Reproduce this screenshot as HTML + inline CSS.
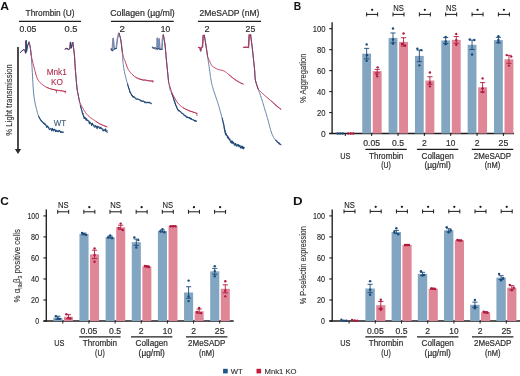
<!DOCTYPE html>
<html><head><meta charset="utf-8"><style>
html,body{margin:0;padding:0;background:#fff;overflow:hidden;}
svg{display:block;font-family:"Liberation Sans", sans-serif;will-change:transform;}
</style></head><body>
<svg width="520" height="376" viewBox="0 0 520 376">
<rect width="520" height="376" fill="#fff"/>
<text x="0.20" y="10.00" font-size="11.2" text-anchor="start" fill="#111" font-weight="bold" textLength="8.80" lengthAdjust="spacingAndGlyphs" >A</text>
<text x="293.70" y="9.70" font-size="10.6" text-anchor="start" fill="#111" font-weight="bold" textLength="7.40" lengthAdjust="spacingAndGlyphs" >B</text>
<text x="0.20" y="204.90" font-size="11.2" text-anchor="start" fill="#111" font-weight="bold" textLength="8.60" lengthAdjust="spacingAndGlyphs" >C</text>
<text x="293.00" y="204.60" font-size="11.0" text-anchor="start" fill="#111" font-weight="bold" textLength="9.60" lengthAdjust="spacingAndGlyphs" >D</text>
<text x="25.60" y="16.40" font-size="8.5" text-anchor="start" fill="#2e2e2e" stroke="#2e2e2e" stroke-width="0.2" textLength="49.00" lengthAdjust="spacingAndGlyphs" >Thrombin (U)</text>
<line x1="19.00" y1="21.40" x2="81.00" y2="21.40" stroke="#1e1e1e" stroke-width="1.15"/>
<text x="19.40" y="31.60" font-size="8.6" text-anchor="start" fill="#2e2e2e" stroke="#2e2e2e" stroke-width="0.2" textLength="16.90" lengthAdjust="spacingAndGlyphs" >0.05</text>
<text x="64.60" y="31.60" font-size="8.6" text-anchor="start" fill="#2e2e2e" stroke="#2e2e2e" stroke-width="0.2" textLength="12.90" lengthAdjust="spacingAndGlyphs" >0.5</text>
<text x="110.20" y="16.40" font-size="8.5" text-anchor="start" fill="#2e2e2e" stroke="#2e2e2e" stroke-width="0.2" textLength="64.60" lengthAdjust="spacingAndGlyphs" >Collagen (µg/ml)</text>
<line x1="111.00" y1="21.40" x2="173.70" y2="21.40" stroke="#1e1e1e" stroke-width="1.15"/>
<text x="119.40" y="31.60" font-size="8.6" text-anchor="start" fill="#2e2e2e" stroke="#2e2e2e" stroke-width="0.2" textLength="5.40" lengthAdjust="spacingAndGlyphs" >2</text>
<text x="160.80" y="31.60" font-size="8.6" text-anchor="start" fill="#2e2e2e" stroke="#2e2e2e" stroke-width="0.2" textLength="9.30" lengthAdjust="spacingAndGlyphs" >10</text>
<text x="199.60" y="16.40" font-size="8.5" text-anchor="start" fill="#2e2e2e" stroke="#2e2e2e" stroke-width="0.2" textLength="59.80" lengthAdjust="spacingAndGlyphs" >2MeSADP (nM)</text>
<line x1="197.90" y1="21.40" x2="261.10" y2="21.40" stroke="#1e1e1e" stroke-width="1.15"/>
<text x="204.40" y="31.60" font-size="8.6" text-anchor="start" fill="#2e2e2e" stroke="#2e2e2e" stroke-width="0.2" textLength="5.10" lengthAdjust="spacingAndGlyphs" >2</text>
<text x="245.60" y="31.60" font-size="8.6" text-anchor="start" fill="#2e2e2e" stroke="#2e2e2e" stroke-width="0.2" textLength="9.70" lengthAdjust="spacingAndGlyphs" >25</text>
<text transform="translate(11.70,99.90) rotate(-90)" x="0" y="0" font-size="9.6" text-anchor="middle" fill="#2e2e2e" stroke="#2e2e2e" stroke-width="0.12" textLength="71.60" lengthAdjust="spacingAndGlyphs">% Light transmission</text>
<line x1="18.00" y1="47.00" x2="18.00" y2="150.00" stroke="#444" stroke-width="1.9"/>
<polygon points="14.9,149.0 21.1,149.0 18.0,154.0" fill="#2a2a2a"/>
<text x="46.70" y="74.50" font-size="8.5" text-anchor="start" fill="#b02f52" stroke="#b02f52" stroke-width="0.12" textLength="20.10" lengthAdjust="spacingAndGlyphs" >Mnk1</text>
<text x="50.90" y="85.20" font-size="8.5" text-anchor="start" fill="#b02f52" stroke="#b02f52" stroke-width="0.12" textLength="11.90" lengthAdjust="spacingAndGlyphs" >KO</text>
<text x="53.70" y="125.80" font-size="8.4" text-anchor="start" fill="#3d5a7a" stroke="#3d5a7a" stroke-width="0.12" textLength="12.40" lengthAdjust="spacingAndGlyphs" >WT</text>
<path d="M20.20,52.70 L21.60,51.30 L23.40,49.90 L24.90,51.00 L25.50,53.50 L25.80,40.70 L26.20,52.00 L27.20,46.50 L28.60,42.70" fill="none" stroke="#c02f55" stroke-width="0.9" stroke-linejoin="round" stroke-linecap="round" opacity="1"/>
<path d="M20.60,52.20 L22.00,50.80 L23.80,49.40 L25.30,50.50 L25.90,53.00 L26.20,40.20 L26.60,51.50 L27.60,46.00 L29.00,42.20" fill="none" stroke="#1f4775" stroke-width="1.0" stroke-linejoin="round" stroke-linecap="round" opacity="1"/>
<path d="M29.00,42.20 L29.17,42.80 L29.40,43.62 L29.68,44.62 L29.95,45.76 L30.20,47.00 L30.43,48.52 L30.66,50.35 L30.88,52.22 L31.07,53.86 L31.20,55.00 L31.27,56.09 L31.37,57.46 L31.48,59.09 L31.60,60.94 L31.74,62.98 L31.88,65.20 L32.04,67.54 L32.20,70.00 L32.36,72.71 L32.52,75.76 L32.69,79.04 L32.86,82.44 L33.06,85.84 L33.27,89.15 L33.52,92.24 L33.80,95.00 L34.13,97.49 L34.50,99.83 L34.90,102.04 L35.33,104.10 L35.77,106.03 L36.20,107.82 L36.61,109.47 L37.00,111.00 L37.35,112.35 L37.67,113.50 L37.98,114.50 L38.29,115.37 L38.60,116.16 L38.93,116.90 L39.29,117.63 L39.70,118.40 L40.15,119.17 L40.63,119.91 L41.14,120.61 L41.67,121.28 L42.22,121.91 L42.77,122.53 L43.34,123.12 L43.90,123.70 L44.46,124.25 L45.02,124.78 L45.59,125.28 L46.17,125.76 L46.76,126.21 L47.38,126.66 L48.02,127.08 L48.70,127.50 L49.40,127.90 L50.12,128.29 L50.86,128.66 L51.63,129.01 L52.43,129.35 L53.25,129.68 L54.11,130.00 L55.00,130.30 L56.00,130.60 L57.13,130.90 L58.33,131.20 L59.54,131.48 L60.71,131.73 L61.76,131.96 L62.65,132.15 L63.30,132.30" fill="none" stroke="#52789f" stroke-width="0.9" stroke-linejoin="round" stroke-linecap="round" opacity="1"/>
<path d="M38.60,116.16 L38.93,116.90 L39.29,117.63 L39.70,118.36 L40.15,118.96 L40.63,120.21 L41.14,120.16 L41.67,121.52 L42.22,121.87 L42.77,121.80 L43.34,123.42 L43.90,122.74 L44.46,124.38 L45.02,123.86 L45.59,124.42 L46.17,125.86 L46.76,127.48 L47.38,125.89 L48.02,126.61 L48.70,128.19 L49.40,129.51 L50.12,128.83 L50.86,128.68 L51.63,130.70 L52.43,128.37 L53.25,131.03 L53.68,129.55 L54.11,129.29 L54.55,129.37 L55.00,130.07 L55.50,131.68 L56.00,130.00 L56.56,131.31 L57.13,131.62 L57.73,131.00 L58.33,131.65 L58.94,130.40 L59.54,130.53 L60.13,131.08 L60.71,132.57 L61.23,131.96 L61.76,131.74 L62.20,132.62 L62.65,132.34 L63.30,132.04" fill="none" stroke="#1f4775" stroke-width="1.05" stroke-linejoin="round" stroke-linecap="round" opacity="1"/>
<path d="M29.00,42.20 L29.17,42.80 L29.40,43.62 L29.68,44.62 L29.95,45.76 L30.20,47.00 L30.43,48.52 L30.66,50.35 L30.88,52.22 L31.07,53.86 L31.20,55.00 L31.27,55.35 L31.34,55.77 L31.43,56.26 L31.53,56.84 L31.66,57.50 L31.81,58.24 L31.99,59.07 L32.20,60.00 L32.46,61.07 L32.76,62.31 L33.09,63.66 L33.44,65.08 L33.81,66.53 L34.19,67.97 L34.55,69.34 L34.90,70.60 L35.22,71.78 L35.53,72.95 L35.82,74.08 L36.12,75.17 L36.44,76.23 L36.78,77.24 L37.17,78.20 L37.60,79.10 L38.08,79.93 L38.59,80.71 L39.14,81.43 L39.72,82.10 L40.33,82.74 L40.96,83.34 L41.62,83.93 L42.30,84.50 L43.01,85.06 L43.76,85.59 L44.54,86.10 L45.34,86.58 L46.16,87.03 L47.00,87.45 L47.85,87.84 L48.70,88.20 L49.55,88.52 L50.41,88.79 L51.27,89.03 L52.14,89.24 L53.05,89.44 L53.99,89.62 L54.97,89.81 L56.00,90.00 L57.16,90.20 L58.48,90.41 L59.89,90.62 L61.31,90.81 L62.67,91.00 L63.90,91.16 L64.94,91.29 L65.70,91.40" fill="none" stroke="#c02f55" stroke-width="0.95" stroke-linejoin="round" stroke-linecap="round" opacity="1"/>
<path d="M29.00,42.20 L29.17,42.80 L29.40,43.62 L29.68,44.62 L29.95,45.76 L30.20,47.00 L30.43,48.52 L30.66,50.35 L30.88,52.22 L31.07,53.86 L31.20,55.00" fill="none" stroke="#34446a" stroke-width="0.7" stroke-linejoin="round" stroke-linecap="round" opacity="0.55"/>
<path d="M47.00,87.45 L47.85,87.84 L48.70,88.20 L49.55,88.52 L50.41,88.79 L51.27,89.11 L52.14,89.35 L53.05,89.36 L53.99,89.75 L54.97,89.92 L56.00,90.44 L57.16,90.51 L57.82,90.22 L58.48,90.94 L59.19,90.27 L59.89,90.64 L60.60,91.05 L61.31,90.60 L61.99,90.99 L62.67,90.68 L63.28,91.33 L63.90,91.50 L64.94,91.46 L65.70,91.84" fill="none" stroke="#a82d4d" stroke-width="0.7" stroke-linejoin="round" stroke-linecap="round" opacity="1"/>
<path d="M64.90,49.30 L66.60,48.70 L68.10,49.80 L69.60,49.00 L70.20,42.40 L71.10,48.50 L72.40,42.90" fill="none" stroke="#c02f55" stroke-width="0.9" stroke-linejoin="round" stroke-linecap="round" opacity="1"/>
<path d="M65.30,48.80 L67.00,48.20 L68.50,49.30 L70.00,48.50 L70.60,41.90 L71.50,48.00 L72.80,42.40" fill="none" stroke="#1f4775" stroke-width="1.0" stroke-linejoin="round" stroke-linecap="round" opacity="1"/>
<path d="M72.80,42.40 L73.03,44.08 L73.35,46.42 L73.73,49.18 L74.09,52.12 L74.40,55.00 L74.63,57.80 L74.81,60.68 L74.99,63.67 L75.17,66.77 L75.40,70.00 L75.69,73.58 L76.02,77.51 L76.36,81.45 L76.70,85.06 L77.00,88.00 L77.26,90.10 L77.50,91.59 L77.72,92.73 L77.95,93.78 L78.20,95.00 L78.49,96.51 L78.81,98.14 L79.13,99.70 L79.41,101.05 L79.60,102.00 L79.66,102.27 L79.72,102.60 L79.81,103.01 L79.90,103.46 L80.01,103.96 L80.13,104.49 L80.26,105.04 L80.40,105.60 L80.56,106.19 L80.73,106.83 L80.92,107.50 L81.12,108.19 L81.34,108.90 L81.55,109.61 L81.78,110.32 L82.00,111.00 L82.22,111.67 L82.42,112.33 L82.62,112.99 L82.83,113.66 L83.06,114.32 L83.33,114.98 L83.64,115.64 L84.00,116.30 L84.42,116.98 L84.90,117.68 L85.43,118.39 L85.98,119.09 L86.56,119.78 L87.14,120.44 L87.73,121.05 L88.30,121.60 L88.85,122.08 L89.39,122.50 L89.93,122.88 L90.48,123.22 L91.05,123.55 L91.65,123.88 L92.30,124.22 L93.00,124.60 L93.76,125.01 L94.58,125.44 L95.44,125.89 L96.33,126.33 L97.24,126.77 L98.17,127.20 L99.09,127.62 L100.00,128.00 L100.96,128.37 L102.00,128.75 L103.07,129.11 L104.14,129.46 L105.15,129.79 L106.06,130.07 L106.83,130.31 L107.40,130.50" fill="none" stroke="#52789f" stroke-width="0.9" stroke-linejoin="round" stroke-linecap="round" opacity="1"/>
<path d="M80.40,105.60 L80.56,106.19 L80.73,106.83 L80.92,107.50 L81.12,108.14 L81.34,109.19 L81.55,109.86 L81.78,110.58 L82.00,111.11 L82.22,112.50 L82.42,113.48 L82.62,113.19 L82.83,114.35 L83.06,113.42 L83.33,115.91 L83.64,116.46 L84.00,118.36 L84.42,118.46 L84.90,117.32 L85.43,118.38 L85.98,120.05 L86.56,118.53 L87.14,120.69 L87.73,120.29 L88.30,120.67 L88.85,120.95 L89.39,123.80 L89.93,121.99 L90.48,122.74 L91.05,123.55 L91.65,125.53 L92.30,123.17 L93.00,124.81 L93.76,125.56 L94.17,126.92 L94.58,126.91 L95.01,127.29 L95.44,125.51 L95.89,126.20 L96.33,126.23 L96.79,128.25 L97.24,128.72 L97.71,126.17 L98.17,126.48 L98.63,126.87 L99.09,127.08 L99.55,128.14 L100.00,128.68 L100.48,127.75 L100.96,127.06 L101.48,128.66 L102.00,128.68 L102.53,129.54 L103.07,131.04 L103.60,130.32 L104.14,129.90 L104.64,130.41 L105.15,130.77 L105.61,128.78 L106.06,131.82 L106.83,131.65 L107.40,132.16" fill="none" stroke="#1f4775" stroke-width="1.05" stroke-linejoin="round" stroke-linecap="round" opacity="1"/>
<path d="M72.80,42.40 L73.03,44.08 L73.35,46.42 L73.73,49.18 L74.09,52.12 L74.40,55.00 L74.63,57.80 L74.81,60.68 L74.99,63.67 L75.17,66.77 L75.40,70.00 L75.69,73.58 L76.02,77.51 L76.36,81.45 L76.70,85.06 L77.00,88.00 L77.26,90.10 L77.50,91.59 L77.72,92.73 L77.95,93.78 L78.20,95.00 L78.49,96.51 L78.81,98.14 L79.13,99.70 L79.41,101.05 L79.60,102.00 L79.73,102.27 L79.89,102.60 L80.09,103.01 L80.31,103.46 L80.55,103.96 L80.82,104.49 L81.10,105.04 L81.40,105.60 L81.72,106.19 L82.06,106.83 L82.41,107.50 L82.79,108.19 L83.19,108.90 L83.61,109.61 L84.05,110.32 L84.50,111.00 L84.96,111.67 L85.42,112.33 L85.88,112.99 L86.38,113.66 L86.90,114.32 L87.47,114.98 L88.10,115.64 L88.80,116.30 L89.60,116.98 L90.52,117.68 L91.50,118.39 L92.53,119.10 L93.55,119.79 L94.55,120.44 L95.47,121.05 L96.30,121.60 L97.01,122.08 L97.64,122.51 L98.21,122.89 L98.75,123.23 L99.27,123.55 L99.81,123.87 L100.37,124.18 L101.00,124.50 L101.72,124.84 L102.53,125.19 L103.38,125.54 L104.24,125.88 L105.07,126.20 L105.81,126.48 L106.44,126.72 L106.90,126.90" fill="none" stroke="#c02f55" stroke-width="0.95" stroke-linejoin="round" stroke-linecap="round" opacity="1"/>
<path d="M72.80,42.40 L73.03,44.08 L73.35,46.42 L73.73,49.18 L74.09,52.12 L74.40,55.00 L74.63,57.80 L74.81,60.68 L74.99,63.67 L75.17,66.77 L75.40,70.00 L75.69,73.58 L76.02,77.51 L76.36,81.45 L76.70,85.06 L77.00,88.00 L77.26,90.10 L77.50,91.59 L77.72,92.73 L77.95,93.78 L78.20,95.00 L78.49,96.51 L78.81,98.14 L79.13,99.70 L79.41,101.05 L79.60,102.00" fill="none" stroke="#34446a" stroke-width="0.7" stroke-linejoin="round" stroke-linecap="round" opacity="0.55"/>
<path d="M96.30,121.60 L97.01,122.08 L97.64,122.51 L98.21,122.89 L98.75,123.36 L99.27,123.56 L99.81,123.87 L100.37,123.92 L101.00,124.72 L101.72,124.55 L102.53,124.90 L103.38,125.38 L104.24,125.68 L105.07,126.15 L105.81,126.18 L106.44,126.37 L106.90,126.69" fill="none" stroke="#a82d4d" stroke-width="0.7" stroke-linejoin="round" stroke-linecap="round" opacity="1"/>
<path d="M110.80,49.40 L111.90,51.10 L112.80,38.30 L114.00,49.30 L115.90,48.50 L117.20,38.30 L118.40,33.50" fill="none" stroke="#d9708a" stroke-width="1.0" stroke-linejoin="round" stroke-linecap="round" opacity="1"/>
<path d="M111.40,49.10 L112.50,50.80 L113.40,38.00 L114.60,49.00 L116.50,48.20 L117.80,38.00 L119.00,33.20" fill="none" stroke="#5d93bd" stroke-width="1.1" stroke-linejoin="round" stroke-linecap="round" opacity="1"/>
<path d="M119.00,33.20 L119.25,34.04 L119.60,35.18 L120.02,36.58 L120.43,38.20 L120.80,40.00 L121.14,42.26 L121.49,45.00 L121.82,47.81 L122.10,50.28 L122.30,52.00 L122.33,52.60 L122.37,53.39 L122.42,54.33 L122.47,55.38 L122.53,56.50 L122.61,57.67 L122.70,58.85 L122.80,60.00 L122.91,61.14 L123.03,62.30 L123.15,63.49 L123.29,64.72 L123.45,65.98 L123.64,67.28 L123.85,68.62 L124.10,70.00 L124.38,71.45 L124.70,72.96 L125.04,74.52 L125.41,76.12 L125.81,77.73 L126.22,79.34 L126.65,80.94 L127.10,82.50 L127.56,84.08 L128.04,85.74 L128.54,87.41 L129.06,89.06 L129.60,90.65 L130.17,92.13 L130.77,93.46 L131.40,94.60 L132.07,95.52 L132.79,96.26 L133.54,96.86 L134.31,97.34 L135.10,97.75 L135.90,98.13 L136.71,98.50 L137.50,98.90 L138.29,99.31 L139.08,99.69 L139.87,100.03 L140.68,100.36 L141.49,100.66 L142.31,100.95 L143.15,101.22 L144.00,101.50 L144.92,101.78 L145.94,102.05 L147.00,102.31 L148.06,102.56 L149.06,102.79 L149.97,103.00 L150.73,103.17 L151.30,103.30" fill="none" stroke="#52789f" stroke-width="0.9" stroke-linejoin="round" stroke-linecap="round" opacity="1"/>
<path d="M127.56,84.08 L127.72,84.64 L127.88,85.19 L128.04,85.66 L128.21,86.28 L128.37,86.68 L128.54,87.69 L128.71,88.11 L128.88,88.32 L129.06,88.94 L129.24,89.55 L129.42,90.09 L129.60,90.33 L129.79,91.75 L129.98,92.50 L130.17,92.24 L130.37,92.71 L130.57,92.58 L130.77,93.05 L131.08,93.97 L131.40,94.42 L131.74,95.69 L132.07,95.19 L132.43,95.37 L132.79,97.07 L133.16,96.76 L133.54,96.51 L133.93,97.32 L134.31,96.82 L135.10,97.96 L135.90,98.98 L136.71,99.18 L137.50,99.34 L138.29,99.13 L139.08,99.66 L139.87,99.72 L140.68,100.91 L141.49,100.87 L142.31,101.51 L143.15,101.14 L144.00,101.26 L144.46,102.25 L144.92,102.63 L145.43,102.58 L145.94,102.65 L146.47,102.80 L147.00,102.82 L147.53,102.20 L148.06,102.75 L148.56,102.63 L149.06,102.27 L149.52,102.37 L149.97,102.84 L150.73,102.98 L151.30,103.74" fill="none" stroke="#1f4775" stroke-width="1.05" stroke-linejoin="round" stroke-linecap="round" opacity="1"/>
<path d="M119.00,33.20 L119.25,34.04 L119.60,35.18 L120.02,36.58 L120.43,38.20 L120.80,40.00 L121.14,42.26 L121.49,45.00 L121.82,47.81 L122.10,50.28 L122.30,52.00 L122.42,52.48 L122.57,53.12 L122.75,53.90 L122.95,54.75 L123.16,55.63 L123.38,56.50 L123.60,57.30 L123.80,58.00 L123.98,58.57 L124.15,59.04 L124.31,59.45 L124.48,59.85 L124.66,60.27 L124.87,60.74 L125.11,61.30 L125.40,62.00 L125.71,62.85 L126.04,63.83 L126.38,64.89 L126.76,66.02 L127.18,67.17 L127.65,68.30 L128.19,69.39 L128.80,70.40 L129.50,71.36 L130.29,72.33 L131.15,73.29 L132.06,74.22 L133.00,75.10 L133.95,75.92 L134.89,76.66 L135.80,77.30 L136.67,77.83 L137.52,78.26 L138.36,78.61 L139.21,78.90 L140.09,79.14 L141.00,79.36 L141.96,79.57 L143.00,79.80 L144.18,80.03 L145.54,80.24 L146.98,80.43 L148.45,80.61 L149.86,80.76 L151.14,80.89 L152.21,81.01 L153.00,81.10" fill="none" stroke="#c02f55" stroke-width="0.95" stroke-linejoin="round" stroke-linecap="round" opacity="1"/>
<path d="M119.00,33.20 L119.25,34.04 L119.60,35.18 L120.02,36.58 L120.43,38.20 L120.80,40.00 L121.14,42.26 L121.49,45.00 L121.82,47.81 L122.10,50.28 L122.30,52.00" fill="none" stroke="#34446a" stroke-width="0.7" stroke-linejoin="round" stroke-linecap="round" opacity="0.55"/>
<path d="M111.20,48.60 L112.50,51.00 L113.60,49.50 L115.00,48.60 L116.40,48.40" fill="none" stroke="#1f4775" stroke-width="1.0" stroke-linejoin="round" stroke-linecap="round" opacity="1"/>
<path d="M135.80,77.30 L136.67,77.83 L137.52,78.26 L138.36,78.61 L139.21,78.90 L140.09,79.28 L141.00,79.39 L141.96,79.88 L143.00,80.23 L143.59,80.42 L144.18,80.01 L144.86,79.98 L145.54,80.09 L146.26,80.16 L146.98,80.27 L147.72,80.73 L148.45,81.07 L149.15,81.09 L149.86,80.84 L150.50,81.07 L151.14,81.26 L152.21,80.73 L153.00,81.34" fill="none" stroke="#a82d4d" stroke-width="0.7" stroke-linejoin="round" stroke-linecap="round" opacity="1"/>
<path d="M152.10,47.90 L154.40,48.80 L156.60,49.30 L157.00,38.10 L157.80,49.30 L158.70,38.80 L159.60,49.60 L161.60,49.60 L162.20,38.30 L162.80,35.20" fill="none" stroke="#d9708a" stroke-width="1.0" stroke-linejoin="round" stroke-linecap="round" opacity="1"/>
<path d="M152.70,47.60 L155.00,48.50 L157.20,49.00 L157.60,37.80 L158.40,49.00 L159.30,38.50 L160.20,49.30 L162.20,49.30 L162.80,38.00 L163.40,34.90" fill="none" stroke="#5d93bd" stroke-width="1.1" stroke-linejoin="round" stroke-linecap="round" opacity="1"/>
<path d="M163.40,34.90 L163.62,36.16 L163.92,37.88 L164.28,39.98 L164.65,42.38 L165.00,45.00 L165.33,48.07 L165.67,51.64 L166.00,55.37 L166.32,58.94 L166.60,62.00 L166.84,64.45 L167.04,66.50 L167.23,68.34 L167.41,70.11 L167.60,72.00 L167.82,74.16 L168.05,76.48 L168.27,78.72 L168.46,80.64 L168.60,82.00 L168.72,82.64 L168.87,83.51 L169.06,84.55 L169.26,85.69 L169.49,86.87 L169.72,88.02 L169.96,89.09 L170.20,90.00 L170.43,90.72 L170.65,91.28 L170.88,91.75 L171.11,92.20 L171.37,92.69 L171.67,93.27 L172.01,94.02 L172.40,95.00 L172.86,96.28 L173.38,97.83 L173.94,99.57 L174.54,101.39 L175.16,103.22 L175.79,104.96 L176.40,106.52 L177.00,107.80 L177.58,108.81 L178.15,109.64 L178.72,110.32 L179.29,110.90 L179.87,111.41 L180.46,111.88 L181.07,112.37 L181.70,112.90 L182.33,113.45 L182.95,113.97 L183.58,114.46 L184.22,114.94 L184.90,115.42 L185.63,115.90 L186.42,116.39 L187.30,116.90 L188.34,117.46 L189.56,118.08 L190.89,118.71 L192.25,119.35 L193.57,119.95 L194.76,120.50 L195.77,120.96 L196.50,121.30" fill="none" stroke="#52789f" stroke-width="0.9" stroke-linejoin="round" stroke-linecap="round" opacity="1"/>
<path d="M171.67,93.27 L172.01,94.02 L172.20,94.51 L172.40,95.00 L172.55,95.56 L172.71,95.99 L172.86,96.43 L173.03,96.84 L173.21,97.19 L173.38,98.10 L173.52,98.22 L173.66,99.04 L173.80,99.67 L173.94,99.57 L174.09,100.04 L174.24,101.13 L174.39,101.36 L174.54,101.10 L174.70,101.48 L174.85,101.97 L175.01,103.51 L175.16,103.82 L175.32,103.31 L175.47,104.72 L175.63,105.38 L175.79,105.35 L175.99,105.42 L176.20,106.23 L176.40,106.14 L176.60,106.40 L176.80,108.21 L177.00,108.18 L177.29,108.51 L177.58,109.60 L177.86,109.29 L178.15,110.34 L178.72,110.95 L179.29,110.64 L179.87,111.21 L180.46,111.74 L181.07,112.15 L181.70,113.18 L182.33,113.26 L182.95,114.01 L183.58,114.09 L184.22,115.69 L184.90,115.37 L185.63,116.00 L186.02,116.42 L186.42,117.13 L186.86,116.69 L187.30,117.66 L187.82,117.34 L188.34,117.67 L188.75,117.86 L189.16,117.34 L189.56,118.15 L190.01,117.99 L190.45,117.95 L190.89,119.30 L191.34,118.61 L191.80,119.26 L192.25,119.83 L192.69,119.79 L193.13,119.66 L193.57,120.14 L194.16,120.47 L194.76,121.07 L195.26,120.32 L195.77,121.20 L196.50,121.10" fill="none" stroke="#1f4775" stroke-width="1.05" stroke-linejoin="round" stroke-linecap="round" opacity="1"/>
<path d="M163.40,34.90 L163.62,36.16 L163.92,37.88 L164.28,39.98 L164.65,42.38 L165.00,45.00 L165.33,48.07 L165.67,51.64 L166.00,55.37 L166.32,58.94 L166.60,62.00 L166.84,64.45 L167.04,66.50 L167.23,68.34 L167.41,70.11 L167.60,72.00 L167.82,74.16 L168.05,76.48 L168.27,78.72 L168.46,80.64 L168.60,82.00 L168.79,82.64 L169.04,83.51 L169.34,84.55 L169.67,85.69 L170.02,86.87 L170.37,88.02 L170.70,89.09 L171.00,90.00 L171.25,90.75 L171.46,91.39 L171.66,91.96 L171.85,92.50 L172.06,93.04 L172.31,93.61 L172.62,94.25 L173.00,95.00 L173.46,95.88 L173.99,96.86 L174.56,97.92 L175.18,99.01 L175.83,100.10 L176.49,101.15 L177.15,102.13 L177.80,103.00 L178.45,103.77 L179.12,104.47 L179.81,105.13 L180.50,105.73 L181.20,106.29 L181.90,106.82 L182.60,107.32 L183.30,107.80 L183.98,108.24 L184.64,108.62 L185.29,108.96 L185.94,109.28 L186.62,109.57 L187.33,109.87 L188.08,110.17 L188.90,110.50 L189.84,110.86 L190.92,111.26 L192.08,111.67 L193.25,112.07 L194.38,112.45 L195.41,112.79 L196.27,113.08 L196.90,113.30" fill="none" stroke="#c02f55" stroke-width="0.95" stroke-linejoin="round" stroke-linecap="round" opacity="1"/>
<path d="M163.40,34.90 L163.62,36.16 L163.92,37.88 L164.28,39.98 L164.65,42.38 L165.00,45.00 L165.33,48.07 L165.67,51.64 L166.00,55.37 L166.32,58.94 L166.60,62.00 L166.84,64.45 L167.04,66.50 L167.23,68.34 L167.41,70.11 L167.60,72.00 L167.82,74.16 L168.05,76.48 L168.27,78.72 L168.46,80.64 L168.60,82.00" fill="none" stroke="#34446a" stroke-width="0.7" stroke-linejoin="round" stroke-linecap="round" opacity="0.55"/>
<path d="M152.40,47.00 L154.00,48.20 L155.50,47.60 L157.00,49.30 L158.50,48.50 L160.00,49.30 L162.20,49.30" fill="none" stroke="#1f4775" stroke-width="1.0" stroke-linejoin="round" stroke-linecap="round" opacity="1"/>
<path d="M183.30,107.80 L183.98,108.24 L184.64,108.62 L185.29,108.96 L185.94,109.25 L186.62,109.73 L187.33,109.94 L188.08,110.31 L188.90,110.83 L189.84,111.34 L190.92,111.31 L191.50,111.66 L192.08,111.77 L192.66,111.98 L193.25,112.34 L194.38,112.51 L195.41,112.92 L196.27,113.16 L196.90,113.80" fill="none" stroke="#a82d4d" stroke-width="0.7" stroke-linejoin="round" stroke-linecap="round" opacity="1"/>
<path d="M198.70,47.60 L200.20,47.90 L200.80,51.30 L201.60,47.60 L202.70,47.30 L203.40,35.60 L204.70,35.60" fill="none" stroke="#1f4775" stroke-width="0.9" stroke-linejoin="round" stroke-linecap="round" opacity="1"/>
<path d="M198.30,47.30 L199.80,47.60 L200.40,51.00 L201.20,47.30 L202.30,47.00 L203.00,35.30 L204.30,35.30" fill="none" stroke="#c8325a" stroke-width="1.1" stroke-linejoin="round" stroke-linecap="round" opacity="1"/>
<path d="M204.30,35.30 L204.52,36.59 L204.82,38.39 L205.18,40.52 L205.55,42.78 L205.90,45.00 L206.26,47.38 L206.65,50.06 L207.04,52.70 L207.37,54.99 L207.60,56.60 L207.76,57.66 L207.97,59.09 L208.23,60.79 L208.51,62.68 L208.81,64.64 L209.10,66.57 L209.37,68.40 L209.60,70.00 L209.80,71.42 L209.97,72.76 L210.13,74.04 L210.29,75.27 L210.44,76.47 L210.61,77.64 L210.79,78.82 L211.00,80.00 L211.22,81.14 L211.43,82.21 L211.65,83.25 L211.89,84.28 L212.15,85.34 L212.45,86.47 L212.80,87.72 L213.20,89.10 L213.68,90.63 L214.22,92.27 L214.81,94.01 L215.44,95.82 L216.09,97.70 L216.75,99.61 L217.39,101.55 L218.00,103.50 L218.60,105.49 L219.21,107.57 L219.82,109.70 L220.42,111.85 L221.02,114.00 L221.60,116.13 L222.17,118.21 L222.70,120.20 L223.18,122.15 L223.59,124.10 L223.97,126.03 L224.34,127.92 L224.73,129.74 L225.17,131.48 L225.69,133.10 L226.30,134.60 L227.00,135.96 L227.76,137.21 L228.58,138.35 L229.45,139.40 L230.38,140.38 L231.36,141.29 L232.40,142.16 L233.50,143.00 L234.75,143.81 L236.20,144.57 L237.76,145.27 L239.35,145.93 L240.88,146.51 L242.28,147.02 L243.44,147.45 L244.30,147.80" fill="none" stroke="#52789f" stroke-width="0.9" stroke-linejoin="round" stroke-linecap="round" opacity="1"/>
<path d="M222.17,118.21 L222.30,118.71 L222.43,119.20 L222.57,119.70 L222.70,120.35 L222.82,121.00 L222.94,121.62 L223.06,121.54 L223.18,122.34 L223.28,123.35 L223.39,123.77 L223.49,123.21 L223.59,123.63 L223.69,124.69 L223.78,124.41 L223.88,125.22 L223.97,125.28 L224.07,127.22 L224.16,128.05 L224.25,128.90 L224.34,127.21 L224.44,129.38 L224.54,129.66 L224.64,128.53 L224.73,131.25 L224.88,132.09 L225.03,130.38 L225.17,133.20 L225.34,132.05 L225.51,132.86 L225.69,134.94 L225.89,134.96 L226.10,133.41 L226.30,134.73 L226.53,135.44 L226.77,135.36 L227.00,135.37 L227.26,136.16 L227.51,137.81 L227.76,136.08 L228.03,138.09 L228.31,138.12 L228.58,137.21 L228.87,138.52 L229.16,139.77 L229.45,139.78 L229.91,138.90 L230.38,142.20 L230.87,142.06 L231.36,143.08 L231.71,140.71 L232.06,141.50 L232.40,141.09 L232.77,143.64 L233.13,142.36 L233.50,142.21 L233.92,143.37 L234.33,145.14 L234.75,145.12 L235.23,143.66 L235.72,143.58 L236.20,146.19 L236.72,145.36 L237.24,145.99 L237.76,144.36 L238.29,144.48 L238.82,146.62 L239.35,146.04 L239.86,145.15 L240.37,148.00 L240.88,147.26 L241.35,147.94 L241.81,145.92 L242.28,148.45 L242.86,146.25 L243.44,148.90 L243.87,147.83 L244.30,147.65" fill="none" stroke="#1f4775" stroke-width="1.05" stroke-linejoin="round" stroke-linecap="round" opacity="1"/>
<path d="M204.30,35.30 L204.52,36.59 L204.82,38.39 L205.18,40.52 L205.55,42.78 L205.90,45.00 L206.26,47.38 L206.65,50.06 L207.04,52.70 L207.37,54.99 L207.60,56.60 L207.79,57.02 L208.03,57.60 L208.32,58.28 L208.65,59.04 L208.99,59.83 L209.34,60.61 L209.68,61.35 L210.00,62.00 L210.28,62.59 L210.53,63.16 L210.76,63.71 L211.00,64.24 L211.27,64.75 L211.58,65.25 L211.95,65.73 L212.40,66.20 L212.95,66.66 L213.57,67.11 L214.27,67.55 L215.00,67.98 L215.76,68.38 L216.53,68.75 L217.28,69.09 L218.00,69.40 L218.71,69.65 L219.44,69.84 L220.17,70.00 L220.90,70.13 L221.62,70.25 L222.31,70.39 L222.98,70.57 L223.60,70.80 L224.17,71.07 L224.69,71.37 L225.18,71.69 L225.65,72.04 L226.11,72.40 L226.58,72.78 L227.07,73.18 L227.60,73.60 L228.16,74.04 L228.72,74.52 L229.31,75.01 L229.90,75.52 L230.51,76.05 L231.12,76.57 L231.76,77.09 L232.40,77.60 L233.06,78.11 L233.75,78.64 L234.46,79.17 L235.18,79.70 L235.89,80.22 L236.61,80.71 L237.31,81.18 L238.00,81.60 L238.70,81.99 L239.45,82.37 L240.21,82.72 L240.95,83.05 L241.65,83.35 L242.27,83.61 L242.80,83.83 L243.20,84.00" fill="none" stroke="#c02f55" stroke-width="0.95" stroke-linejoin="round" stroke-linecap="round" opacity="1"/>
<path d="M204.30,35.30 L204.52,36.59 L204.82,38.39 L205.18,40.52 L205.55,42.78 L205.90,45.00 L206.26,47.38 L206.65,50.06 L207.04,52.70 L207.37,54.99 L207.60,56.60" fill="none" stroke="#34446a" stroke-width="0.7" stroke-linejoin="round" stroke-linecap="round" opacity="0.55"/>
<path d="M229.31,75.01 L229.90,75.52 L230.51,76.05 L231.12,76.57 L231.76,77.09 L232.40,77.64 L233.06,78.35 L233.75,78.56 L234.46,78.97 L235.18,79.82 L235.89,80.08 L236.61,80.46 L237.31,80.97 L238.00,81.30 L238.70,81.82 L239.45,82.30 L240.21,82.65 L240.95,83.38 L241.65,83.26 L242.27,83.71 L242.80,83.64 L243.20,83.96" fill="none" stroke="#a82d4d" stroke-width="0.7" stroke-linejoin="round" stroke-linecap="round" opacity="1"/>
<path d="M243.70,47.60 L246.40,47.30 L248.70,47.80 L249.40,35.00 L251.00,35.30" fill="none" stroke="#1f4775" stroke-width="0.9" stroke-linejoin="round" stroke-linecap="round" opacity="1"/>
<path d="M243.30,47.30 L246.00,47.00 L248.30,47.50 L249.00,34.70 L250.60,35.00" fill="none" stroke="#c8325a" stroke-width="1.1" stroke-linejoin="round" stroke-linecap="round" opacity="1"/>
<path d="M250.60,35.00 L250.86,36.96 L251.21,39.68 L251.63,42.92 L252.08,46.44 L252.50,50.00 L252.93,53.84 L253.39,58.12 L253.84,62.48 L254.26,66.56 L254.60,70.00 L254.81,72.65 L254.92,74.76 L255.00,76.54 L255.13,78.22 L255.40,80.00 L255.88,82.02 L256.51,84.14 L257.19,86.16 L257.79,87.88 L258.20,89.10 L258.50,89.95 L258.90,91.08 L259.38,92.43 L259.91,93.92 L260.47,95.50 L261.02,97.08 L261.54,98.61 L262.00,100.00 L262.41,101.29 L262.81,102.56 L263.18,103.82 L263.55,105.06 L263.91,106.29 L264.27,107.52 L264.63,108.76 L265.00,110.00 L265.37,111.24 L265.74,112.45 L266.11,113.66 L266.48,114.88 L266.85,116.10 L267.23,117.36 L267.61,118.65 L268.00,120.00 L268.40,121.44 L268.79,122.97 L269.20,124.56 L269.61,126.16 L270.02,127.75 L270.44,129.28 L270.87,130.71 L271.30,132.00 L271.73,133.16 L272.15,134.23 L272.56,135.21 L272.99,136.12 L273.43,136.99 L273.91,137.81 L274.43,138.61 L275.00,139.40 L275.67,140.19 L276.46,140.98 L277.31,141.74 L278.18,142.46 L279.02,143.13 L279.79,143.72 L280.43,144.21 L280.90,144.60" fill="none" stroke="#52789f" stroke-width="0.9" stroke-linejoin="round" stroke-linecap="round" opacity="1"/>
<path d="M275.67,140.19 L276.07,140.43 L276.46,140.85 L276.88,140.85 L277.31,142.24 L277.75,142.33 L278.18,142.18 L278.60,142.92 L279.02,143.91 L279.41,143.02 L279.79,144.34 L280.43,144.28 L280.90,144.75" fill="none" stroke="#1f4775" stroke-width="1.05" stroke-linejoin="round" stroke-linecap="round" opacity="1"/>
<path d="M250.60,35.00 L250.86,36.96 L251.21,39.68 L251.63,42.92 L252.08,46.44 L252.50,50.00 L252.93,53.84 L253.39,58.12 L253.84,62.48 L254.26,66.56 L254.60,70.00 L254.81,72.65 L254.92,74.76 L255.00,76.54 L255.13,78.22 L255.40,80.00 L255.88,82.02 L256.51,84.14 L257.19,86.16 L257.79,87.88 L258.20,89.10 L258.55,89.45 L258.98,89.91 L259.49,90.44 L260.08,91.05 L260.73,91.71 L261.44,92.42 L262.20,93.15 L263.00,93.90 L263.86,94.68 L264.80,95.50 L265.80,96.37 L266.85,97.28 L267.94,98.21 L269.05,99.16 L270.18,100.13 L271.30,101.10 L272.50,102.15 L273.83,103.31 L275.23,104.53 L276.62,105.75 L277.95,106.91 L279.14,107.96 L280.15,108.84 L280.90,109.50" fill="none" stroke="#c02f55" stroke-width="0.95" stroke-linejoin="round" stroke-linecap="round" opacity="1"/>
<path d="M250.60,35.00 L250.86,36.96 L251.21,39.68 L251.63,42.92 L252.08,46.44 L252.50,50.00 L252.93,53.84 L253.39,58.12 L253.84,62.48 L254.26,66.56 L254.60,70.00 L254.81,72.65 L254.92,74.76 L255.00,76.54 L255.13,78.22 L255.40,80.00 L255.88,82.02 L256.51,84.14 L257.19,86.16 L257.79,87.88 L258.20,89.10" fill="none" stroke="#34446a" stroke-width="0.7" stroke-linejoin="round" stroke-linecap="round" opacity="0.55"/>
<path d="M271.30,101.10 L271.90,101.62 L272.50,102.15 L273.17,102.73 L273.83,103.48 L274.30,103.72 L274.76,104.24 L275.23,104.91 L275.69,105.69 L276.15,105.29 L276.62,106.31 L277.28,106.73 L277.95,107.22 L278.55,107.46 L279.14,107.91 L279.65,107.98 L280.15,108.52 L280.90,109.10" fill="none" stroke="#a82d4d" stroke-width="0.7" stroke-linejoin="round" stroke-linecap="round" opacity="1"/>
<line x1="56.40" y1="90.20" x2="56.40" y2="93.20" stroke="#a82d4d" stroke-width="0.7"/>
<line x1="65.20" y1="91.00" x2="65.20" y2="93.40" stroke="#a82d4d" stroke-width="0.7"/>
<line x1="196.90" y1="113.00" x2="196.90" y2="116.10" stroke="#a82d4d" stroke-width="0.7"/>
<line x1="152.80" y1="80.60" x2="152.80" y2="82.60" stroke="#a82d4d" stroke-width="0.7"/>
<line x1="332.10" y1="22.20" x2="332.10" y2="134.10" stroke="#1e1e1e" stroke-width="1.35"/>
<line x1="329.20" y1="133.50" x2="332.10" y2="133.50" stroke="#1e1e1e" stroke-width="1.1"/>
<text x="325.60" y="136.60" font-size="9.6" text-anchor="end" fill="#262626" stroke="#262626" stroke-width="0.12" textLength="4.70" lengthAdjust="spacingAndGlyphs" >0</text>
<line x1="329.20" y1="112.54" x2="332.10" y2="112.54" stroke="#1e1e1e" stroke-width="1.1"/>
<text x="325.60" y="115.64" font-size="9.6" text-anchor="end" fill="#262626" stroke="#262626" stroke-width="0.12" textLength="8.50" lengthAdjust="spacingAndGlyphs" >20</text>
<line x1="329.20" y1="91.58" x2="332.10" y2="91.58" stroke="#1e1e1e" stroke-width="1.1"/>
<text x="325.60" y="94.68" font-size="9.6" text-anchor="end" fill="#262626" stroke="#262626" stroke-width="0.12" textLength="8.50" lengthAdjust="spacingAndGlyphs" >40</text>
<line x1="329.20" y1="70.62" x2="332.10" y2="70.62" stroke="#1e1e1e" stroke-width="1.1"/>
<text x="325.60" y="73.72" font-size="9.6" text-anchor="end" fill="#262626" stroke="#262626" stroke-width="0.12" textLength="8.50" lengthAdjust="spacingAndGlyphs" >60</text>
<line x1="329.20" y1="49.66" x2="332.10" y2="49.66" stroke="#1e1e1e" stroke-width="1.1"/>
<text x="325.60" y="52.76" font-size="9.6" text-anchor="end" fill="#262626" stroke="#262626" stroke-width="0.12" textLength="8.50" lengthAdjust="spacingAndGlyphs" >80</text>
<line x1="329.20" y1="28.70" x2="332.10" y2="28.70" stroke="#1e1e1e" stroke-width="1.1"/>
<text x="325.60" y="31.80" font-size="9.6" text-anchor="end" fill="#262626" stroke="#262626" stroke-width="0.12" textLength="12.90" lengthAdjust="spacingAndGlyphs" >100</text>
<line x1="329.20" y1="133.50" x2="514.00" y2="133.50" stroke="#1e1e1e" stroke-width="1.35"/>
<text transform="translate(306.20,78.25) rotate(-90)" x="0" y="0" font-size="9.3" text-anchor="middle" fill="#333" stroke="#333" stroke-width="0.12" textLength="49.30" lengthAdjust="spacingAndGlyphs">% Aggregation</text>
<line x1="345.30" y1="133.50" x2="345.30" y2="136.00" stroke="#1e1e1e" stroke-width="1.0"/>
<circle cx="337.80" cy="133.50" r="1.2" fill="#1b4a78"/>
<circle cx="340.30" cy="133.50" r="1.2" fill="#1b4a78"/>
<circle cx="342.80" cy="133.50" r="1.2" fill="#1b4a78"/>
<circle cx="348.35" cy="133.50" r="1.2" fill="#b0183e"/>
<circle cx="350.85" cy="133.50" r="1.2" fill="#b0183e"/>
<circle cx="353.35" cy="133.50" r="1.2" fill="#b0183e"/>
<line x1="371.65" y1="133.50" x2="371.65" y2="136.00" stroke="#1e1e1e" stroke-width="1.0"/>
<rect x="362.25" y="53.60" width="8.80" height="79.90" fill="#82a5c1"/>
<line x1="366.65" y1="48.36" x2="366.65" y2="58.84" stroke="#1b4a78" stroke-width="0.9"/>
<line x1="364.05" y1="48.36" x2="369.25" y2="48.36" stroke="#1b4a78" stroke-width="0.9"/>
<line x1="364.05" y1="58.84" x2="369.25" y2="58.84" stroke="#1b4a78" stroke-width="0.9"/>
<circle cx="366.65" cy="44.38" r="1.2" fill="#1b4a78"/>
<circle cx="366.95" cy="55.17" r="1.2" fill="#1b4a78"/>
<circle cx="366.65" cy="60.73" r="1.2" fill="#1b4a78"/>
<rect x="372.75" y="71.10" width="8.90" height="62.40" fill="#df8797"/>
<line x1="377.20" y1="69.32" x2="377.20" y2="72.88" stroke="#b0183e" stroke-width="0.9"/>
<line x1="374.60" y1="69.32" x2="379.80" y2="69.32" stroke="#b0183e" stroke-width="0.9"/>
<line x1="374.60" y1="72.88" x2="379.80" y2="72.88" stroke="#b0183e" stroke-width="0.9"/>
<circle cx="377.70" cy="67.33" r="1.2" fill="#b0183e"/>
<circle cx="376.70" cy="74.35" r="1.2" fill="#b0183e"/>
<circle cx="377.20" cy="76.34" r="1.2" fill="#b0183e"/>
<line x1="398.00" y1="133.50" x2="398.00" y2="136.00" stroke="#1e1e1e" stroke-width="1.0"/>
<rect x="388.60" y="37.90" width="8.80" height="95.60" fill="#82a5c1"/>
<line x1="393.00" y1="32.97" x2="393.00" y2="42.83" stroke="#1b4a78" stroke-width="0.9"/>
<line x1="390.40" y1="32.97" x2="395.60" y2="32.97" stroke="#1b4a78" stroke-width="0.9"/>
<line x1="390.40" y1="42.83" x2="395.60" y2="42.83" stroke="#1b4a78" stroke-width="0.9"/>
<circle cx="393.00" cy="28.47" r="1.2" fill="#1b4a78"/>
<circle cx="393.00" cy="39.47" r="1.2" fill="#1b4a78"/>
<circle cx="393.00" cy="43.66" r="1.2" fill="#1b4a78"/>
<rect x="399.10" y="41.90" width="8.90" height="91.60" fill="#df8797"/>
<line x1="403.55" y1="37.71" x2="403.55" y2="46.09" stroke="#b0183e" stroke-width="0.9"/>
<line x1="400.95" y1="37.71" x2="406.15" y2="37.71" stroke="#b0183e" stroke-width="0.9"/>
<line x1="400.95" y1="46.09" x2="406.15" y2="46.09" stroke="#b0183e" stroke-width="0.9"/>
<circle cx="403.55" cy="33.52" r="1.2" fill="#b0183e"/>
<circle cx="402.05" cy="44.00" r="1.2" fill="#b0183e"/>
<circle cx="405.05" cy="45.57" r="1.2" fill="#b0183e"/>
<line x1="424.35" y1="133.50" x2="424.35" y2="136.00" stroke="#1e1e1e" stroke-width="1.0"/>
<rect x="414.95" y="55.90" width="8.80" height="77.60" fill="#82a5c1"/>
<line x1="419.35" y1="50.14" x2="419.35" y2="61.66" stroke="#1b4a78" stroke-width="0.9"/>
<line x1="416.75" y1="50.14" x2="421.95" y2="50.14" stroke="#1b4a78" stroke-width="0.9"/>
<line x1="416.75" y1="61.66" x2="421.95" y2="61.66" stroke="#1b4a78" stroke-width="0.9"/>
<circle cx="417.35" cy="48.77" r="1.2" fill="#1b4a78"/>
<circle cx="421.35" cy="50.14" r="1.2" fill="#1b4a78"/>
<circle cx="419.35" cy="65.33" r="1.2" fill="#1b4a78"/>
<rect x="425.45" y="80.50" width="8.90" height="53.00" fill="#df8797"/>
<line x1="429.90" y1="76.73" x2="429.90" y2="84.27" stroke="#b0183e" stroke-width="0.9"/>
<line x1="427.30" y1="76.73" x2="432.50" y2="76.73" stroke="#b0183e" stroke-width="0.9"/>
<line x1="427.30" y1="84.27" x2="432.50" y2="84.27" stroke="#b0183e" stroke-width="0.9"/>
<circle cx="429.90" cy="72.43" r="1.2" fill="#b0183e"/>
<circle cx="429.90" cy="82.70" r="1.2" fill="#b0183e"/>
<circle cx="429.90" cy="86.37" r="1.2" fill="#b0183e"/>
<line x1="450.70" y1="133.50" x2="450.70" y2="136.00" stroke="#1e1e1e" stroke-width="1.0"/>
<rect x="441.30" y="40.50" width="8.80" height="93.00" fill="#82a5c1"/>
<line x1="445.70" y1="37.57" x2="445.70" y2="43.43" stroke="#1b4a78" stroke-width="0.9"/>
<line x1="443.10" y1="37.57" x2="448.30" y2="37.57" stroke="#1b4a78" stroke-width="0.9"/>
<line x1="443.10" y1="43.43" x2="448.30" y2="43.43" stroke="#1b4a78" stroke-width="0.9"/>
<circle cx="445.70" cy="37.04" r="1.2" fill="#1b4a78"/>
<circle cx="445.70" cy="41.34" r="1.2" fill="#1b4a78"/>
<circle cx="445.70" cy="44.17" r="1.2" fill="#1b4a78"/>
<rect x="451.80" y="39.90" width="8.90" height="93.60" fill="#df8797"/>
<line x1="456.25" y1="36.55" x2="456.25" y2="43.25" stroke="#b0183e" stroke-width="0.9"/>
<line x1="453.65" y1="36.55" x2="458.85" y2="36.55" stroke="#b0183e" stroke-width="0.9"/>
<line x1="453.65" y1="43.25" x2="458.85" y2="43.25" stroke="#b0183e" stroke-width="0.9"/>
<circle cx="456.25" cy="34.03" r="1.2" fill="#b0183e"/>
<circle cx="456.25" cy="40.11" r="1.2" fill="#b0183e"/>
<circle cx="456.25" cy="44.83" r="1.2" fill="#b0183e"/>
<line x1="477.05" y1="133.50" x2="477.05" y2="136.00" stroke="#1e1e1e" stroke-width="1.0"/>
<rect x="467.65" y="44.80" width="8.80" height="88.70" fill="#82a5c1"/>
<line x1="472.05" y1="40.08" x2="472.05" y2="49.52" stroke="#1b4a78" stroke-width="0.9"/>
<line x1="469.45" y1="40.08" x2="474.65" y2="40.08" stroke="#1b4a78" stroke-width="0.9"/>
<line x1="469.45" y1="49.52" x2="474.65" y2="49.52" stroke="#1b4a78" stroke-width="0.9"/>
<circle cx="469.75" cy="39.56" r="1.2" fill="#1b4a78"/>
<circle cx="474.35" cy="39.98" r="1.2" fill="#1b4a78"/>
<circle cx="472.05" cy="54.44" r="1.2" fill="#1b4a78"/>
<rect x="478.15" y="87.30" width="8.90" height="46.20" fill="#df8797"/>
<line x1="482.60" y1="82.58" x2="482.60" y2="92.02" stroke="#b0183e" stroke-width="0.9"/>
<line x1="480.00" y1="82.58" x2="485.20" y2="82.58" stroke="#b0183e" stroke-width="0.9"/>
<line x1="480.00" y1="92.02" x2="485.20" y2="92.02" stroke="#b0183e" stroke-width="0.9"/>
<circle cx="482.60" cy="78.39" r="1.2" fill="#b0183e"/>
<circle cx="482.60" cy="88.35" r="1.2" fill="#b0183e"/>
<circle cx="482.60" cy="92.02" r="1.2" fill="#b0183e"/>
<line x1="503.40" y1="133.50" x2="503.40" y2="136.00" stroke="#1e1e1e" stroke-width="1.0"/>
<rect x="494.00" y="40.10" width="8.80" height="93.40" fill="#82a5c1"/>
<line x1="498.40" y1="37.38" x2="498.40" y2="42.82" stroke="#1b4a78" stroke-width="0.9"/>
<line x1="495.80" y1="37.38" x2="501.00" y2="37.38" stroke="#1b4a78" stroke-width="0.9"/>
<line x1="495.80" y1="42.82" x2="501.00" y2="42.82" stroke="#1b4a78" stroke-width="0.9"/>
<circle cx="498.40" cy="36.22" r="1.2" fill="#1b4a78"/>
<circle cx="498.40" cy="40.00" r="1.2" fill="#1b4a78"/>
<circle cx="498.40" cy="42.20" r="1.2" fill="#1b4a78"/>
<rect x="504.50" y="59.30" width="8.90" height="74.20" fill="#df8797"/>
<line x1="508.95" y1="55.32" x2="508.95" y2="63.28" stroke="#b0183e" stroke-width="0.9"/>
<line x1="506.35" y1="55.32" x2="511.55" y2="55.32" stroke="#b0183e" stroke-width="0.9"/>
<line x1="506.35" y1="63.28" x2="511.55" y2="63.28" stroke="#b0183e" stroke-width="0.9"/>
<circle cx="506.65" cy="55.11" r="1.2" fill="#b0183e"/>
<circle cx="511.25" cy="56.58" r="1.2" fill="#b0183e"/>
<circle cx="508.95" cy="65.59" r="1.2" fill="#b0183e"/>
<line x1="366.65" y1="14.40" x2="377.65" y2="14.40" stroke="#1a1a1a" stroke-width="1.0"/>
<line x1="366.65" y1="12.40" x2="366.65" y2="16.40" stroke="#1a1a1a" stroke-width="1.0"/>
<line x1="377.65" y1="12.40" x2="377.65" y2="16.40" stroke="#1a1a1a" stroke-width="1.0"/>
<circle cx="372.15" cy="9.80" r="1.15" fill="#1a1a1a"/>
<line x1="393.00" y1="14.40" x2="404.00" y2="14.40" stroke="#1a1a1a" stroke-width="1.0"/>
<line x1="393.00" y1="12.40" x2="393.00" y2="16.40" stroke="#1a1a1a" stroke-width="1.0"/>
<line x1="404.00" y1="12.40" x2="404.00" y2="16.40" stroke="#1a1a1a" stroke-width="1.0"/>
<text x="398.50" y="10.60" font-size="9.0" text-anchor="middle" fill="#222" stroke="#222" stroke-width="0.12" textLength="10.60" lengthAdjust="spacingAndGlyphs" >NS</text>
<line x1="419.35" y1="14.40" x2="430.35" y2="14.40" stroke="#1a1a1a" stroke-width="1.0"/>
<line x1="419.35" y1="12.40" x2="419.35" y2="16.40" stroke="#1a1a1a" stroke-width="1.0"/>
<line x1="430.35" y1="12.40" x2="430.35" y2="16.40" stroke="#1a1a1a" stroke-width="1.0"/>
<circle cx="424.85" cy="9.80" r="1.15" fill="#1a1a1a"/>
<line x1="445.70" y1="14.40" x2="456.70" y2="14.40" stroke="#1a1a1a" stroke-width="1.0"/>
<line x1="445.70" y1="12.40" x2="445.70" y2="16.40" stroke="#1a1a1a" stroke-width="1.0"/>
<line x1="456.70" y1="12.40" x2="456.70" y2="16.40" stroke="#1a1a1a" stroke-width="1.0"/>
<text x="451.20" y="10.60" font-size="9.0" text-anchor="middle" fill="#222" stroke="#222" stroke-width="0.12" textLength="10.60" lengthAdjust="spacingAndGlyphs" >NS</text>
<line x1="472.05" y1="14.40" x2="483.05" y2="14.40" stroke="#1a1a1a" stroke-width="1.0"/>
<line x1="472.05" y1="12.40" x2="472.05" y2="16.40" stroke="#1a1a1a" stroke-width="1.0"/>
<line x1="483.05" y1="12.40" x2="483.05" y2="16.40" stroke="#1a1a1a" stroke-width="1.0"/>
<circle cx="477.55" cy="9.80" r="1.15" fill="#1a1a1a"/>
<line x1="498.40" y1="14.40" x2="509.40" y2="14.40" stroke="#1a1a1a" stroke-width="1.0"/>
<line x1="498.40" y1="12.40" x2="498.40" y2="16.40" stroke="#1a1a1a" stroke-width="1.0"/>
<line x1="509.40" y1="12.40" x2="509.40" y2="16.40" stroke="#1a1a1a" stroke-width="1.0"/>
<circle cx="503.90" cy="9.80" r="1.15" fill="#1a1a1a"/>
<text x="345.30" y="158.50" font-size="8.8" text-anchor="middle" fill="#2e2e2e" stroke="#2e2e2e" stroke-width="0.2" textLength="10.20" lengthAdjust="spacingAndGlyphs" >US</text>
<text x="371.65" y="146.40" font-size="8.8" text-anchor="middle" fill="#2e2e2e" stroke="#2e2e2e" stroke-width="0.2" textLength="16.80" lengthAdjust="spacingAndGlyphs" >0.05</text>
<text x="398.00" y="146.40" font-size="8.8" text-anchor="middle" fill="#2e2e2e" stroke="#2e2e2e" stroke-width="0.2" textLength="12.00" lengthAdjust="spacingAndGlyphs" >0.5</text>
<text x="424.35" y="146.40" font-size="8.8" text-anchor="middle" fill="#2e2e2e" stroke="#2e2e2e" stroke-width="0.2" textLength="4.80" lengthAdjust="spacingAndGlyphs" >2</text>
<text x="450.70" y="146.40" font-size="8.8" text-anchor="middle" fill="#2e2e2e" stroke="#2e2e2e" stroke-width="0.2" textLength="9.20" lengthAdjust="spacingAndGlyphs" >10</text>
<text x="477.05" y="146.40" font-size="8.8" text-anchor="middle" fill="#2e2e2e" stroke="#2e2e2e" stroke-width="0.2" textLength="4.80" lengthAdjust="spacingAndGlyphs" >2</text>
<text x="503.40" y="146.40" font-size="8.8" text-anchor="middle" fill="#2e2e2e" stroke="#2e2e2e" stroke-width="0.2" textLength="9.80" lengthAdjust="spacingAndGlyphs" >25</text>
<line x1="365.40" y1="149.30" x2="406.80" y2="149.30" stroke="#1e1e1e" stroke-width="1.15"/>
<text x="386.10" y="158.60" font-size="8.6" text-anchor="middle" fill="#2e2e2e" stroke="#2e2e2e" stroke-width="0.2" textLength="34.30" lengthAdjust="spacingAndGlyphs" >Thrombin</text>
<text x="386.10" y="168.20" font-size="8.2" text-anchor="middle" fill="#2e2e2e" stroke="#2e2e2e" stroke-width="0.2" textLength="9.60" lengthAdjust="spacingAndGlyphs" >(U)</text>
<line x1="416.90" y1="149.30" x2="458.30" y2="149.30" stroke="#1e1e1e" stroke-width="1.15"/>
<text x="437.60" y="158.60" font-size="8.6" text-anchor="middle" fill="#2e2e2e" stroke="#2e2e2e" stroke-width="0.2" textLength="32.20" lengthAdjust="spacingAndGlyphs" >Collagen</text>
<text x="437.60" y="168.20" font-size="8.2" text-anchor="middle" fill="#2e2e2e" stroke="#2e2e2e" stroke-width="0.2" textLength="26.20" lengthAdjust="spacingAndGlyphs" >(µg/ml)</text>
<line x1="471.80" y1="149.30" x2="513.20" y2="149.30" stroke="#1e1e1e" stroke-width="1.15"/>
<text x="492.50" y="158.60" font-size="8.6" text-anchor="middle" fill="#2e2e2e" stroke="#2e2e2e" stroke-width="0.2" textLength="37.30" lengthAdjust="spacingAndGlyphs" >2MeSADP</text>
<text x="492.50" y="168.20" font-size="8.2" text-anchor="middle" fill="#2e2e2e" stroke="#2e2e2e" stroke-width="0.2" textLength="15.40" lengthAdjust="spacingAndGlyphs" >(nM)</text>
<line x1="46.30" y1="209.50" x2="46.30" y2="321.60" stroke="#1e1e1e" stroke-width="1.35"/>
<line x1="43.40" y1="321.00" x2="46.30" y2="321.00" stroke="#1e1e1e" stroke-width="1.1"/>
<text x="39.10" y="323.70" font-size="8.6" text-anchor="end" fill="#262626" stroke="#262626" stroke-width="0.12" textLength="3.90" lengthAdjust="spacingAndGlyphs" >0</text>
<line x1="43.40" y1="299.98" x2="46.30" y2="299.98" stroke="#1e1e1e" stroke-width="1.1"/>
<text x="39.10" y="302.68" font-size="8.6" text-anchor="end" fill="#262626" stroke="#262626" stroke-width="0.12" textLength="8.00" lengthAdjust="spacingAndGlyphs" >20</text>
<line x1="43.40" y1="278.96" x2="46.30" y2="278.96" stroke="#1e1e1e" stroke-width="1.1"/>
<text x="39.10" y="281.66" font-size="8.6" text-anchor="end" fill="#262626" stroke="#262626" stroke-width="0.12" textLength="8.00" lengthAdjust="spacingAndGlyphs" >40</text>
<line x1="43.40" y1="257.94" x2="46.30" y2="257.94" stroke="#1e1e1e" stroke-width="1.1"/>
<text x="39.10" y="260.64" font-size="8.6" text-anchor="end" fill="#262626" stroke="#262626" stroke-width="0.12" textLength="8.00" lengthAdjust="spacingAndGlyphs" >60</text>
<line x1="43.40" y1="236.92" x2="46.30" y2="236.92" stroke="#1e1e1e" stroke-width="1.1"/>
<text x="39.10" y="239.62" font-size="8.6" text-anchor="end" fill="#262626" stroke="#262626" stroke-width="0.12" textLength="8.00" lengthAdjust="spacingAndGlyphs" >80</text>
<line x1="43.40" y1="215.90" x2="46.30" y2="215.90" stroke="#1e1e1e" stroke-width="1.1"/>
<text x="39.10" y="218.60" font-size="8.6" text-anchor="end" fill="#262626" stroke="#262626" stroke-width="0.12" textLength="11.70" lengthAdjust="spacingAndGlyphs" >100</text>
<line x1="43.40" y1="321.00" x2="233.70" y2="321.00" stroke="#1e1e1e" stroke-width="1.35"/>
<text transform="translate(20.20,265.70) rotate(-90)" x="0" y="0" font-size="9.3" text-anchor="middle" fill="#333" stroke="#333" stroke-width="0.12" textLength="73.40" lengthAdjust="spacingAndGlyphs">% α<tspan font-size="6" dy="1.6">IIb</tspan><tspan dy="-1.6">β</tspan><tspan font-size="6" dy="1.6">3</tspan><tspan dy="-1.6"> positive cells</tspan></text>
<line x1="62.80" y1="321.00" x2="62.80" y2="323.50" stroke="#1e1e1e" stroke-width="1.0"/>
<rect x="53.30" y="317.80" width="9.10" height="3.20" fill="#82a5c1"/>
<line x1="57.85" y1="316.22" x2="57.85" y2="319.38" stroke="#1b4a78" stroke-width="0.9"/>
<line x1="55.25" y1="316.22" x2="60.45" y2="316.22" stroke="#1b4a78" stroke-width="0.9"/>
<line x1="55.25" y1="319.38" x2="60.45" y2="319.38" stroke="#1b4a78" stroke-width="0.9"/>
<circle cx="55.85" cy="316.22" r="1.2" fill="#1b4a78"/>
<circle cx="57.85" cy="318.33" r="1.2" fill="#1b4a78"/>
<circle cx="59.85" cy="318.85" r="1.2" fill="#1b4a78"/>
<rect x="63.90" y="316.80" width="9.00" height="4.20" fill="#df8797"/>
<line x1="68.40" y1="314.70" x2="68.40" y2="318.90" stroke="#b0183e" stroke-width="0.9"/>
<line x1="65.80" y1="314.70" x2="71.00" y2="314.70" stroke="#b0183e" stroke-width="0.9"/>
<line x1="65.80" y1="318.90" x2="71.00" y2="318.90" stroke="#b0183e" stroke-width="0.9"/>
<circle cx="66.40" cy="314.17" r="1.2" fill="#b0183e"/>
<circle cx="68.40" cy="317.85" r="1.2" fill="#b0183e"/>
<circle cx="70.40" cy="318.38" r="1.2" fill="#b0183e"/>
<line x1="88.95" y1="321.00" x2="88.95" y2="323.50" stroke="#1e1e1e" stroke-width="1.0"/>
<rect x="79.45" y="234.00" width="9.10" height="87.00" fill="#82a5c1"/>
<line x1="84.00" y1="233.16" x2="84.00" y2="234.84" stroke="#1b4a78" stroke-width="0.9"/>
<line x1="81.40" y1="233.16" x2="86.60" y2="233.16" stroke="#1b4a78" stroke-width="0.9"/>
<line x1="81.40" y1="234.84" x2="86.60" y2="234.84" stroke="#1b4a78" stroke-width="0.9"/>
<circle cx="82.00" cy="232.95" r="1.2" fill="#1b4a78"/>
<circle cx="84.00" cy="233.89" r="1.2" fill="#1b4a78"/>
<circle cx="86.00" cy="234.84" r="1.2" fill="#1b4a78"/>
<rect x="90.05" y="254.40" width="9.00" height="66.60" fill="#df8797"/>
<line x1="94.55" y1="250.20" x2="94.55" y2="258.60" stroke="#b0183e" stroke-width="0.9"/>
<line x1="91.95" y1="250.20" x2="97.15" y2="250.20" stroke="#b0183e" stroke-width="0.9"/>
<line x1="91.95" y1="258.60" x2="97.15" y2="258.60" stroke="#b0183e" stroke-width="0.9"/>
<circle cx="94.55" cy="248.41" r="1.2" fill="#b0183e"/>
<circle cx="94.55" cy="255.03" r="1.2" fill="#b0183e"/>
<circle cx="94.55" cy="261.76" r="1.2" fill="#b0183e"/>
<line x1="115.10" y1="321.00" x2="115.10" y2="323.50" stroke="#1e1e1e" stroke-width="1.0"/>
<rect x="105.60" y="237.10" width="9.10" height="83.90" fill="#82a5c1"/>
<line x1="110.15" y1="236.15" x2="110.15" y2="238.05" stroke="#1b4a78" stroke-width="0.9"/>
<line x1="107.55" y1="236.15" x2="112.75" y2="236.15" stroke="#1b4a78" stroke-width="0.9"/>
<line x1="107.55" y1="238.05" x2="112.75" y2="238.05" stroke="#1b4a78" stroke-width="0.9"/>
<circle cx="110.15" cy="235.52" r="1.2" fill="#1b4a78"/>
<circle cx="108.15" cy="237.42" r="1.2" fill="#1b4a78"/>
<circle cx="112.15" cy="238.15" r="1.2" fill="#1b4a78"/>
<rect x="116.20" y="227.30" width="9.00" height="93.70" fill="#df8797"/>
<line x1="120.70" y1="225.20" x2="120.70" y2="229.40" stroke="#b0183e" stroke-width="0.9"/>
<line x1="118.10" y1="225.20" x2="123.30" y2="225.20" stroke="#b0183e" stroke-width="0.9"/>
<line x1="118.10" y1="229.40" x2="123.30" y2="229.40" stroke="#b0183e" stroke-width="0.9"/>
<circle cx="120.70" cy="223.62" r="1.2" fill="#b0183e"/>
<circle cx="118.70" cy="227.83" r="1.2" fill="#b0183e"/>
<circle cx="122.70" cy="229.93" r="1.2" fill="#b0183e"/>
<line x1="141.25" y1="321.00" x2="141.25" y2="323.50" stroke="#1e1e1e" stroke-width="1.0"/>
<rect x="131.75" y="242.20" width="9.10" height="78.80" fill="#82a5c1"/>
<line x1="136.30" y1="239.05" x2="136.30" y2="245.35" stroke="#1b4a78" stroke-width="0.9"/>
<line x1="133.70" y1="239.05" x2="138.90" y2="239.05" stroke="#1b4a78" stroke-width="0.9"/>
<line x1="133.70" y1="245.35" x2="138.90" y2="245.35" stroke="#1b4a78" stroke-width="0.9"/>
<circle cx="134.30" cy="237.37" r="1.2" fill="#1b4a78"/>
<circle cx="138.30" cy="240.10" r="1.2" fill="#1b4a78"/>
<circle cx="136.30" cy="247.45" r="1.2" fill="#1b4a78"/>
<rect x="142.35" y="266.40" width="9.00" height="54.60" fill="#df8797"/>
<line x1="146.85" y1="265.77" x2="146.85" y2="267.03" stroke="#b0183e" stroke-width="0.9"/>
<line x1="144.25" y1="265.77" x2="149.45" y2="265.77" stroke="#b0183e" stroke-width="0.9"/>
<line x1="144.25" y1="267.03" x2="149.45" y2="267.03" stroke="#b0183e" stroke-width="0.9"/>
<circle cx="144.85" cy="265.87" r="1.2" fill="#b0183e"/>
<circle cx="146.85" cy="266.40" r="1.2" fill="#b0183e"/>
<circle cx="148.85" cy="266.93" r="1.2" fill="#b0183e"/>
<line x1="167.40" y1="321.00" x2="167.40" y2="323.50" stroke="#1e1e1e" stroke-width="1.0"/>
<rect x="157.90" y="231.00" width="9.10" height="90.00" fill="#82a5c1"/>
<line x1="162.45" y1="229.95" x2="162.45" y2="232.05" stroke="#1b4a78" stroke-width="0.9"/>
<line x1="159.85" y1="229.95" x2="165.05" y2="229.95" stroke="#1b4a78" stroke-width="0.9"/>
<line x1="159.85" y1="232.05" x2="165.05" y2="232.05" stroke="#1b4a78" stroke-width="0.9"/>
<circle cx="162.45" cy="229.11" r="1.2" fill="#1b4a78"/>
<circle cx="160.45" cy="231.21" r="1.2" fill="#1b4a78"/>
<circle cx="164.45" cy="232.26" r="1.2" fill="#1b4a78"/>
<rect x="168.50" y="226.20" width="9.00" height="94.80" fill="#df8797"/>
<line x1="173.00" y1="225.88" x2="173.00" y2="226.52" stroke="#b0183e" stroke-width="0.9"/>
<line x1="170.40" y1="225.88" x2="175.60" y2="225.88" stroke="#b0183e" stroke-width="0.9"/>
<line x1="170.40" y1="226.52" x2="175.60" y2="226.52" stroke="#b0183e" stroke-width="0.9"/>
<circle cx="170.50" cy="226.20" r="1.2" fill="#b0183e"/>
<circle cx="173.00" cy="226.20" r="1.2" fill="#b0183e"/>
<circle cx="175.50" cy="226.20" r="1.2" fill="#b0183e"/>
<line x1="193.55" y1="321.00" x2="193.55" y2="323.50" stroke="#1e1e1e" stroke-width="1.0"/>
<rect x="184.05" y="292.50" width="9.10" height="28.50" fill="#82a5c1"/>
<line x1="188.60" y1="286.72" x2="188.60" y2="298.28" stroke="#1b4a78" stroke-width="0.9"/>
<line x1="186.00" y1="286.72" x2="191.20" y2="286.72" stroke="#1b4a78" stroke-width="0.9"/>
<line x1="186.00" y1="298.28" x2="191.20" y2="298.28" stroke="#1b4a78" stroke-width="0.9"/>
<circle cx="188.60" cy="280.62" r="1.2" fill="#1b4a78"/>
<circle cx="188.60" cy="296.39" r="1.2" fill="#1b4a78"/>
<circle cx="188.60" cy="301.12" r="1.2" fill="#1b4a78"/>
<rect x="194.65" y="311.20" width="9.00" height="9.80" fill="#df8797"/>
<line x1="199.15" y1="309.10" x2="199.15" y2="313.30" stroke="#b0183e" stroke-width="0.9"/>
<line x1="196.55" y1="309.10" x2="201.75" y2="309.10" stroke="#b0183e" stroke-width="0.9"/>
<line x1="196.55" y1="313.30" x2="201.75" y2="313.30" stroke="#b0183e" stroke-width="0.9"/>
<circle cx="199.15" cy="308.05" r="1.2" fill="#b0183e"/>
<circle cx="197.15" cy="312.04" r="1.2" fill="#b0183e"/>
<circle cx="201.15" cy="313.09" r="1.2" fill="#b0183e"/>
<line x1="219.70" y1="321.00" x2="219.70" y2="323.50" stroke="#1e1e1e" stroke-width="1.0"/>
<rect x="210.20" y="271.30" width="9.10" height="49.70" fill="#82a5c1"/>
<line x1="214.75" y1="268.36" x2="214.75" y2="274.24" stroke="#1b4a78" stroke-width="0.9"/>
<line x1="212.15" y1="268.36" x2="217.35" y2="268.36" stroke="#1b4a78" stroke-width="0.9"/>
<line x1="212.15" y1="274.24" x2="217.35" y2="274.24" stroke="#1b4a78" stroke-width="0.9"/>
<circle cx="214.75" cy="266.15" r="1.2" fill="#1b4a78"/>
<circle cx="214.75" cy="271.09" r="1.2" fill="#1b4a78"/>
<circle cx="214.75" cy="276.24" r="1.2" fill="#1b4a78"/>
<rect x="220.80" y="288.80" width="9.00" height="32.20" fill="#df8797"/>
<line x1="225.30" y1="284.81" x2="225.30" y2="292.79" stroke="#b0183e" stroke-width="0.9"/>
<line x1="222.70" y1="284.81" x2="227.90" y2="284.81" stroke="#b0183e" stroke-width="0.9"/>
<line x1="222.70" y1="292.79" x2="227.90" y2="292.79" stroke="#b0183e" stroke-width="0.9"/>
<circle cx="225.30" cy="281.23" r="1.2" fill="#b0183e"/>
<circle cx="225.30" cy="290.59" r="1.2" fill="#b0183e"/>
<circle cx="225.30" cy="296.37" r="1.2" fill="#b0183e"/>
<line x1="57.70" y1="211.80" x2="68.70" y2="211.80" stroke="#1a1a1a" stroke-width="1.0"/>
<line x1="57.70" y1="209.80" x2="57.70" y2="213.80" stroke="#1a1a1a" stroke-width="1.0"/>
<line x1="68.70" y1="209.80" x2="68.70" y2="213.80" stroke="#1a1a1a" stroke-width="1.0"/>
<text x="63.20" y="208.00" font-size="9.0" text-anchor="middle" fill="#222" stroke="#222" stroke-width="0.12" textLength="10.60" lengthAdjust="spacingAndGlyphs" >NS</text>
<line x1="83.85" y1="211.80" x2="94.85" y2="211.80" stroke="#1a1a1a" stroke-width="1.0"/>
<line x1="83.85" y1="209.80" x2="83.85" y2="213.80" stroke="#1a1a1a" stroke-width="1.0"/>
<line x1="94.85" y1="209.80" x2="94.85" y2="213.80" stroke="#1a1a1a" stroke-width="1.0"/>
<circle cx="89.35" cy="207.20" r="1.15" fill="#1a1a1a"/>
<line x1="110.00" y1="211.80" x2="121.00" y2="211.80" stroke="#1a1a1a" stroke-width="1.0"/>
<line x1="110.00" y1="209.80" x2="110.00" y2="213.80" stroke="#1a1a1a" stroke-width="1.0"/>
<line x1="121.00" y1="209.80" x2="121.00" y2="213.80" stroke="#1a1a1a" stroke-width="1.0"/>
<text x="115.50" y="208.00" font-size="9.0" text-anchor="middle" fill="#222" stroke="#222" stroke-width="0.12" textLength="10.60" lengthAdjust="spacingAndGlyphs" >NS</text>
<line x1="136.15" y1="211.80" x2="147.15" y2="211.80" stroke="#1a1a1a" stroke-width="1.0"/>
<line x1="136.15" y1="209.80" x2="136.15" y2="213.80" stroke="#1a1a1a" stroke-width="1.0"/>
<line x1="147.15" y1="209.80" x2="147.15" y2="213.80" stroke="#1a1a1a" stroke-width="1.0"/>
<circle cx="141.65" cy="207.20" r="1.15" fill="#1a1a1a"/>
<line x1="162.30" y1="211.80" x2="173.30" y2="211.80" stroke="#1a1a1a" stroke-width="1.0"/>
<line x1="162.30" y1="209.80" x2="162.30" y2="213.80" stroke="#1a1a1a" stroke-width="1.0"/>
<line x1="173.30" y1="209.80" x2="173.30" y2="213.80" stroke="#1a1a1a" stroke-width="1.0"/>
<text x="167.80" y="208.00" font-size="9.0" text-anchor="middle" fill="#222" stroke="#222" stroke-width="0.12" textLength="10.60" lengthAdjust="spacingAndGlyphs" >NS</text>
<line x1="188.45" y1="211.80" x2="199.45" y2="211.80" stroke="#1a1a1a" stroke-width="1.0"/>
<line x1="188.45" y1="209.80" x2="188.45" y2="213.80" stroke="#1a1a1a" stroke-width="1.0"/>
<line x1="199.45" y1="209.80" x2="199.45" y2="213.80" stroke="#1a1a1a" stroke-width="1.0"/>
<circle cx="193.95" cy="207.20" r="1.15" fill="#1a1a1a"/>
<line x1="214.60" y1="211.80" x2="225.60" y2="211.80" stroke="#1a1a1a" stroke-width="1.0"/>
<line x1="214.60" y1="209.80" x2="214.60" y2="213.80" stroke="#1a1a1a" stroke-width="1.0"/>
<line x1="225.60" y1="209.80" x2="225.60" y2="213.80" stroke="#1a1a1a" stroke-width="1.0"/>
<circle cx="220.10" cy="207.20" r="1.15" fill="#1a1a1a"/>
<text x="59.35" y="346.00" font-size="8.8" text-anchor="middle" fill="#2e2e2e" stroke="#2e2e2e" stroke-width="0.2" textLength="10.20" lengthAdjust="spacingAndGlyphs" >US</text>
<text x="88.95" y="333.90" font-size="8.8" text-anchor="middle" fill="#2e2e2e" stroke="#2e2e2e" stroke-width="0.2" textLength="16.80" lengthAdjust="spacingAndGlyphs" >0.05</text>
<text x="115.10" y="333.90" font-size="8.8" text-anchor="middle" fill="#2e2e2e" stroke="#2e2e2e" stroke-width="0.2" textLength="12.00" lengthAdjust="spacingAndGlyphs" >0.5</text>
<text x="141.25" y="333.90" font-size="8.8" text-anchor="middle" fill="#2e2e2e" stroke="#2e2e2e" stroke-width="0.2" textLength="4.80" lengthAdjust="spacingAndGlyphs" >2</text>
<text x="167.40" y="333.90" font-size="8.8" text-anchor="middle" fill="#2e2e2e" stroke="#2e2e2e" stroke-width="0.2" textLength="9.20" lengthAdjust="spacingAndGlyphs" >10</text>
<text x="193.55" y="333.90" font-size="8.8" text-anchor="middle" fill="#2e2e2e" stroke="#2e2e2e" stroke-width="0.2" textLength="4.80" lengthAdjust="spacingAndGlyphs" >2</text>
<text x="219.70" y="333.90" font-size="8.8" text-anchor="middle" fill="#2e2e2e" stroke="#2e2e2e" stroke-width="0.2" textLength="9.80" lengthAdjust="spacingAndGlyphs" >25</text>
<line x1="79.20" y1="336.80" x2="120.60" y2="336.80" stroke="#1e1e1e" stroke-width="1.15"/>
<text x="99.90" y="346.10" font-size="8.6" text-anchor="middle" fill="#2e2e2e" stroke="#2e2e2e" stroke-width="0.2" textLength="34.30" lengthAdjust="spacingAndGlyphs" >Thrombin</text>
<text x="99.90" y="355.70" font-size="8.2" text-anchor="middle" fill="#2e2e2e" stroke="#2e2e2e" stroke-width="0.2" textLength="9.60" lengthAdjust="spacingAndGlyphs" >(U)</text>
<line x1="131.00" y1="336.80" x2="172.40" y2="336.80" stroke="#1e1e1e" stroke-width="1.15"/>
<text x="151.70" y="346.10" font-size="8.6" text-anchor="middle" fill="#2e2e2e" stroke="#2e2e2e" stroke-width="0.2" textLength="32.20" lengthAdjust="spacingAndGlyphs" >Collagen</text>
<text x="151.70" y="355.70" font-size="8.2" text-anchor="middle" fill="#2e2e2e" stroke="#2e2e2e" stroke-width="0.2" textLength="26.20" lengthAdjust="spacingAndGlyphs" >(µg/ml)</text>
<line x1="186.00" y1="336.80" x2="227.40" y2="336.80" stroke="#1e1e1e" stroke-width="1.15"/>
<text x="206.70" y="346.10" font-size="8.6" text-anchor="middle" fill="#2e2e2e" stroke="#2e2e2e" stroke-width="0.2" textLength="37.30" lengthAdjust="spacingAndGlyphs" >2MeSADP</text>
<text x="206.70" y="355.70" font-size="8.2" text-anchor="middle" fill="#2e2e2e" stroke="#2e2e2e" stroke-width="0.2" textLength="15.40" lengthAdjust="spacingAndGlyphs" >(nM)</text>
<line x1="332.20" y1="209.50" x2="332.20" y2="321.60" stroke="#1e1e1e" stroke-width="1.35"/>
<line x1="329.30" y1="321.00" x2="332.20" y2="321.00" stroke="#1e1e1e" stroke-width="1.1"/>
<text x="325.00" y="323.70" font-size="8.6" text-anchor="end" fill="#262626" stroke="#262626" stroke-width="0.12" textLength="3.90" lengthAdjust="spacingAndGlyphs" >0</text>
<line x1="329.30" y1="299.98" x2="332.20" y2="299.98" stroke="#1e1e1e" stroke-width="1.1"/>
<text x="325.00" y="302.68" font-size="8.6" text-anchor="end" fill="#262626" stroke="#262626" stroke-width="0.12" textLength="8.00" lengthAdjust="spacingAndGlyphs" >20</text>
<line x1="329.30" y1="278.96" x2="332.20" y2="278.96" stroke="#1e1e1e" stroke-width="1.1"/>
<text x="325.00" y="281.66" font-size="8.6" text-anchor="end" fill="#262626" stroke="#262626" stroke-width="0.12" textLength="8.00" lengthAdjust="spacingAndGlyphs" >40</text>
<line x1="329.30" y1="257.94" x2="332.20" y2="257.94" stroke="#1e1e1e" stroke-width="1.1"/>
<text x="325.00" y="260.64" font-size="8.6" text-anchor="end" fill="#262626" stroke="#262626" stroke-width="0.12" textLength="8.00" lengthAdjust="spacingAndGlyphs" >60</text>
<line x1="329.30" y1="236.92" x2="332.20" y2="236.92" stroke="#1e1e1e" stroke-width="1.1"/>
<text x="325.00" y="239.62" font-size="8.6" text-anchor="end" fill="#262626" stroke="#262626" stroke-width="0.12" textLength="8.00" lengthAdjust="spacingAndGlyphs" >80</text>
<line x1="329.30" y1="215.90" x2="332.20" y2="215.90" stroke="#1e1e1e" stroke-width="1.1"/>
<text x="325.00" y="218.60" font-size="8.6" text-anchor="end" fill="#262626" stroke="#262626" stroke-width="0.12" textLength="11.90" lengthAdjust="spacingAndGlyphs" >100</text>
<line x1="329.30" y1="321.00" x2="520.00" y2="321.00" stroke="#1e1e1e" stroke-width="1.35"/>
<text transform="translate(306.20,265.20) rotate(-90)" x="0" y="0" font-size="9.3" text-anchor="middle" fill="#333" stroke="#333" stroke-width="0.12" textLength="78.30" lengthAdjust="spacingAndGlyphs">% P-selectin expression</text>
<line x1="349.10" y1="321.00" x2="349.10" y2="323.50" stroke="#1e1e1e" stroke-width="1.0"/>
<circle cx="341.40" cy="319.66" r="1.2" fill="#1b4a78"/>
<circle cx="343.90" cy="320.71" r="1.2" fill="#1b4a78"/>
<circle cx="346.40" cy="320.82" r="1.2" fill="#1b4a78"/>
<circle cx="352.10" cy="319.97" r="1.2" fill="#b0183e"/>
<circle cx="354.60" cy="320.50" r="1.2" fill="#b0183e"/>
<circle cx="357.10" cy="320.71" r="1.2" fill="#b0183e"/>
<line x1="375.30" y1="321.00" x2="375.30" y2="323.50" stroke="#1e1e1e" stroke-width="1.0"/>
<rect x="365.40" y="288.50" width="9.40" height="32.50" fill="#82a5c1"/>
<line x1="370.10" y1="284.30" x2="370.10" y2="292.70" stroke="#1b4a78" stroke-width="0.9"/>
<line x1="367.50" y1="284.30" x2="372.70" y2="284.30" stroke="#1b4a78" stroke-width="0.9"/>
<line x1="367.50" y1="292.70" x2="372.70" y2="292.70" stroke="#1b4a78" stroke-width="0.9"/>
<circle cx="370.10" cy="281.14" r="1.2" fill="#1b4a78"/>
<circle cx="370.10" cy="289.76" r="1.2" fill="#1b4a78"/>
<circle cx="370.10" cy="294.81" r="1.2" fill="#1b4a78"/>
<rect x="376.20" y="305.20" width="9.20" height="15.80" fill="#df8797"/>
<line x1="380.80" y1="301.52" x2="380.80" y2="308.88" stroke="#b0183e" stroke-width="0.9"/>
<line x1="378.20" y1="301.52" x2="383.40" y2="301.52" stroke="#b0183e" stroke-width="0.9"/>
<line x1="378.20" y1="308.88" x2="383.40" y2="308.88" stroke="#b0183e" stroke-width="0.9"/>
<circle cx="380.80" cy="299.73" r="1.2" fill="#b0183e"/>
<circle cx="380.80" cy="308.35" r="1.2" fill="#b0183e"/>
<circle cx="380.80" cy="309.82" r="1.2" fill="#b0183e"/>
<line x1="401.50" y1="321.00" x2="401.50" y2="323.50" stroke="#1e1e1e" stroke-width="1.0"/>
<rect x="391.60" y="232.00" width="9.40" height="89.00" fill="#82a5c1"/>
<line x1="396.30" y1="230.42" x2="396.30" y2="233.58" stroke="#1b4a78" stroke-width="0.9"/>
<line x1="393.70" y1="230.42" x2="398.90" y2="230.42" stroke="#1b4a78" stroke-width="0.9"/>
<line x1="393.70" y1="233.58" x2="398.90" y2="233.58" stroke="#1b4a78" stroke-width="0.9"/>
<circle cx="396.30" cy="228.32" r="1.2" fill="#1b4a78"/>
<circle cx="394.30" cy="232.00" r="1.2" fill="#1b4a78"/>
<circle cx="398.30" cy="234.31" r="1.2" fill="#1b4a78"/>
<rect x="402.40" y="245.00" width="9.20" height="76.00" fill="#df8797"/>
<line x1="407.00" y1="244.47" x2="407.00" y2="245.53" stroke="#b0183e" stroke-width="0.9"/>
<line x1="404.40" y1="244.47" x2="409.60" y2="244.47" stroke="#b0183e" stroke-width="0.9"/>
<line x1="404.40" y1="245.53" x2="409.60" y2="245.53" stroke="#b0183e" stroke-width="0.9"/>
<circle cx="405.00" cy="245.00" r="1.2" fill="#b0183e"/>
<circle cx="407.00" cy="245.00" r="1.2" fill="#b0183e"/>
<circle cx="409.00" cy="245.00" r="1.2" fill="#b0183e"/>
<line x1="427.70" y1="321.00" x2="427.70" y2="323.50" stroke="#1e1e1e" stroke-width="1.0"/>
<rect x="417.80" y="273.90" width="9.40" height="47.10" fill="#82a5c1"/>
<line x1="422.50" y1="272.32" x2="422.50" y2="275.48" stroke="#1b4a78" stroke-width="0.9"/>
<line x1="419.90" y1="272.32" x2="425.10" y2="272.32" stroke="#1b4a78" stroke-width="0.9"/>
<line x1="419.90" y1="275.48" x2="425.10" y2="275.48" stroke="#1b4a78" stroke-width="0.9"/>
<circle cx="421.00" cy="271.27" r="1.2" fill="#1b4a78"/>
<circle cx="424.00" cy="274.95" r="1.2" fill="#1b4a78"/>
<circle cx="422.50" cy="275.48" r="1.2" fill="#1b4a78"/>
<rect x="428.60" y="288.80" width="9.20" height="32.20" fill="#df8797"/>
<line x1="433.20" y1="288.17" x2="433.20" y2="289.43" stroke="#b0183e" stroke-width="0.9"/>
<line x1="430.60" y1="288.17" x2="435.80" y2="288.17" stroke="#b0183e" stroke-width="0.9"/>
<line x1="430.60" y1="289.43" x2="435.80" y2="289.43" stroke="#b0183e" stroke-width="0.9"/>
<circle cx="431.20" cy="288.48" r="1.2" fill="#b0183e"/>
<circle cx="433.20" cy="288.80" r="1.2" fill="#b0183e"/>
<circle cx="435.20" cy="289.12" r="1.2" fill="#b0183e"/>
<line x1="453.90" y1="321.00" x2="453.90" y2="323.50" stroke="#1e1e1e" stroke-width="1.0"/>
<rect x="444.00" y="230.30" width="9.40" height="90.70" fill="#82a5c1"/>
<line x1="448.70" y1="228.72" x2="448.70" y2="231.88" stroke="#1b4a78" stroke-width="0.9"/>
<line x1="446.10" y1="228.72" x2="451.30" y2="228.72" stroke="#1b4a78" stroke-width="0.9"/>
<line x1="446.10" y1="231.88" x2="451.30" y2="231.88" stroke="#1b4a78" stroke-width="0.9"/>
<circle cx="446.70" cy="227.15" r="1.2" fill="#1b4a78"/>
<circle cx="450.70" cy="230.30" r="1.2" fill="#1b4a78"/>
<circle cx="448.70" cy="232.40" r="1.2" fill="#1b4a78"/>
<rect x="454.80" y="240.30" width="9.20" height="80.70" fill="#df8797"/>
<line x1="459.40" y1="239.88" x2="459.40" y2="240.72" stroke="#b0183e" stroke-width="0.9"/>
<line x1="456.80" y1="239.88" x2="462.00" y2="239.88" stroke="#b0183e" stroke-width="0.9"/>
<line x1="456.80" y1="240.72" x2="462.00" y2="240.72" stroke="#b0183e" stroke-width="0.9"/>
<circle cx="457.40" cy="239.98" r="1.2" fill="#b0183e"/>
<circle cx="459.40" cy="240.62" r="1.2" fill="#b0183e"/>
<circle cx="461.40" cy="240.62" r="1.2" fill="#b0183e"/>
<line x1="480.10" y1="321.00" x2="480.10" y2="323.50" stroke="#1e1e1e" stroke-width="1.0"/>
<rect x="470.20" y="304.80" width="9.40" height="16.20" fill="#82a5c1"/>
<line x1="474.90" y1="302.17" x2="474.90" y2="307.43" stroke="#1b4a78" stroke-width="0.9"/>
<line x1="472.30" y1="302.17" x2="477.50" y2="302.17" stroke="#1b4a78" stroke-width="0.9"/>
<line x1="472.30" y1="307.43" x2="477.50" y2="307.43" stroke="#1b4a78" stroke-width="0.9"/>
<circle cx="474.90" cy="300.07" r="1.2" fill="#1b4a78"/>
<circle cx="474.90" cy="306.27" r="1.2" fill="#1b4a78"/>
<circle cx="474.90" cy="308.37" r="1.2" fill="#1b4a78"/>
<rect x="481.00" y="312.30" width="9.20" height="8.70" fill="#df8797"/>
<line x1="485.60" y1="311.67" x2="485.60" y2="312.93" stroke="#b0183e" stroke-width="0.9"/>
<line x1="483.00" y1="311.67" x2="488.20" y2="311.67" stroke="#b0183e" stroke-width="0.9"/>
<line x1="483.00" y1="312.93" x2="488.20" y2="312.93" stroke="#b0183e" stroke-width="0.9"/>
<circle cx="483.60" cy="311.77" r="1.2" fill="#b0183e"/>
<circle cx="485.60" cy="312.30" r="1.2" fill="#b0183e"/>
<circle cx="487.60" cy="312.83" r="1.2" fill="#b0183e"/>
<line x1="506.30" y1="321.00" x2="506.30" y2="323.50" stroke="#1e1e1e" stroke-width="1.0"/>
<rect x="496.40" y="277.60" width="9.40" height="43.40" fill="#82a5c1"/>
<line x1="501.10" y1="275.71" x2="501.10" y2="279.49" stroke="#1b4a78" stroke-width="0.9"/>
<line x1="498.50" y1="275.71" x2="503.70" y2="275.71" stroke="#1b4a78" stroke-width="0.9"/>
<line x1="498.50" y1="279.49" x2="503.70" y2="279.49" stroke="#1b4a78" stroke-width="0.9"/>
<circle cx="499.10" cy="273.92" r="1.2" fill="#1b4a78"/>
<circle cx="503.10" cy="278.13" r="1.2" fill="#1b4a78"/>
<circle cx="501.10" cy="280.23" r="1.2" fill="#1b4a78"/>
<rect x="507.20" y="287.70" width="9.20" height="33.30" fill="#df8797"/>
<line x1="511.80" y1="285.60" x2="511.80" y2="289.80" stroke="#b0183e" stroke-width="0.9"/>
<line x1="509.20" y1="285.60" x2="514.40" y2="285.60" stroke="#b0183e" stroke-width="0.9"/>
<line x1="509.20" y1="289.80" x2="514.40" y2="289.80" stroke="#b0183e" stroke-width="0.9"/>
<circle cx="509.80" cy="285.07" r="1.2" fill="#b0183e"/>
<circle cx="513.80" cy="287.70" r="1.2" fill="#b0183e"/>
<circle cx="511.80" cy="290.33" r="1.2" fill="#b0183e"/>
<line x1="344.00" y1="211.40" x2="355.00" y2="211.40" stroke="#1a1a1a" stroke-width="1.0"/>
<line x1="344.00" y1="209.40" x2="344.00" y2="213.40" stroke="#1a1a1a" stroke-width="1.0"/>
<line x1="355.00" y1="209.40" x2="355.00" y2="213.40" stroke="#1a1a1a" stroke-width="1.0"/>
<text x="349.50" y="207.60" font-size="9.0" text-anchor="middle" fill="#222" stroke="#222" stroke-width="0.12" textLength="10.60" lengthAdjust="spacingAndGlyphs" >NS</text>
<line x1="370.20" y1="211.40" x2="381.20" y2="211.40" stroke="#1a1a1a" stroke-width="1.0"/>
<line x1="370.20" y1="209.40" x2="370.20" y2="213.40" stroke="#1a1a1a" stroke-width="1.0"/>
<line x1="381.20" y1="209.40" x2="381.20" y2="213.40" stroke="#1a1a1a" stroke-width="1.0"/>
<circle cx="375.70" cy="206.80" r="1.15" fill="#1a1a1a"/>
<line x1="396.40" y1="211.40" x2="407.40" y2="211.40" stroke="#1a1a1a" stroke-width="1.0"/>
<line x1="396.40" y1="209.40" x2="396.40" y2="213.40" stroke="#1a1a1a" stroke-width="1.0"/>
<line x1="407.40" y1="209.40" x2="407.40" y2="213.40" stroke="#1a1a1a" stroke-width="1.0"/>
<circle cx="401.90" cy="206.80" r="1.15" fill="#1a1a1a"/>
<line x1="422.60" y1="211.40" x2="433.60" y2="211.40" stroke="#1a1a1a" stroke-width="1.0"/>
<line x1="422.60" y1="209.40" x2="422.60" y2="213.40" stroke="#1a1a1a" stroke-width="1.0"/>
<line x1="433.60" y1="209.40" x2="433.60" y2="213.40" stroke="#1a1a1a" stroke-width="1.0"/>
<circle cx="428.10" cy="206.80" r="1.15" fill="#1a1a1a"/>
<line x1="448.80" y1="211.40" x2="459.80" y2="211.40" stroke="#1a1a1a" stroke-width="1.0"/>
<line x1="448.80" y1="209.40" x2="448.80" y2="213.40" stroke="#1a1a1a" stroke-width="1.0"/>
<line x1="459.80" y1="209.40" x2="459.80" y2="213.40" stroke="#1a1a1a" stroke-width="1.0"/>
<circle cx="454.30" cy="206.80" r="1.15" fill="#1a1a1a"/>
<line x1="475.00" y1="211.40" x2="486.00" y2="211.40" stroke="#1a1a1a" stroke-width="1.0"/>
<line x1="475.00" y1="209.40" x2="475.00" y2="213.40" stroke="#1a1a1a" stroke-width="1.0"/>
<line x1="486.00" y1="209.40" x2="486.00" y2="213.40" stroke="#1a1a1a" stroke-width="1.0"/>
<circle cx="480.50" cy="206.80" r="1.15" fill="#1a1a1a"/>
<line x1="501.20" y1="211.40" x2="512.20" y2="211.40" stroke="#1a1a1a" stroke-width="1.0"/>
<line x1="501.20" y1="209.40" x2="501.20" y2="213.40" stroke="#1a1a1a" stroke-width="1.0"/>
<line x1="512.20" y1="209.40" x2="512.20" y2="213.40" stroke="#1a1a1a" stroke-width="1.0"/>
<circle cx="506.70" cy="206.80" r="1.15" fill="#1a1a1a"/>
<text x="345.30" y="346.00" font-size="8.8" text-anchor="middle" fill="#2e2e2e" stroke="#2e2e2e" stroke-width="0.2" textLength="10.20" lengthAdjust="spacingAndGlyphs" >US</text>
<text x="375.30" y="333.90" font-size="8.8" text-anchor="middle" fill="#2e2e2e" stroke="#2e2e2e" stroke-width="0.2" textLength="16.80" lengthAdjust="spacingAndGlyphs" >0.05</text>
<text x="401.50" y="333.90" font-size="8.8" text-anchor="middle" fill="#2e2e2e" stroke="#2e2e2e" stroke-width="0.2" textLength="12.00" lengthAdjust="spacingAndGlyphs" >0.5</text>
<text x="427.70" y="333.90" font-size="8.8" text-anchor="middle" fill="#2e2e2e" stroke="#2e2e2e" stroke-width="0.2" textLength="4.80" lengthAdjust="spacingAndGlyphs" >2</text>
<text x="453.90" y="333.90" font-size="8.8" text-anchor="middle" fill="#2e2e2e" stroke="#2e2e2e" stroke-width="0.2" textLength="9.20" lengthAdjust="spacingAndGlyphs" >10</text>
<text x="480.10" y="333.90" font-size="8.8" text-anchor="middle" fill="#2e2e2e" stroke="#2e2e2e" stroke-width="0.2" textLength="4.80" lengthAdjust="spacingAndGlyphs" >2</text>
<text x="506.30" y="333.90" font-size="8.8" text-anchor="middle" fill="#2e2e2e" stroke="#2e2e2e" stroke-width="0.2" textLength="9.80" lengthAdjust="spacingAndGlyphs" >25</text>
<line x1="365.30" y1="336.80" x2="406.70" y2="336.80" stroke="#1e1e1e" stroke-width="1.15"/>
<text x="386.00" y="346.10" font-size="8.6" text-anchor="middle" fill="#2e2e2e" stroke="#2e2e2e" stroke-width="0.2" textLength="34.30" lengthAdjust="spacingAndGlyphs" >Thrombin</text>
<text x="386.00" y="355.70" font-size="8.2" text-anchor="middle" fill="#2e2e2e" stroke="#2e2e2e" stroke-width="0.2" textLength="9.60" lengthAdjust="spacingAndGlyphs" >(U)</text>
<line x1="417.00" y1="336.80" x2="458.40" y2="336.80" stroke="#1e1e1e" stroke-width="1.15"/>
<text x="437.70" y="346.10" font-size="8.6" text-anchor="middle" fill="#2e2e2e" stroke="#2e2e2e" stroke-width="0.2" textLength="32.20" lengthAdjust="spacingAndGlyphs" >Collagen</text>
<text x="437.70" y="355.70" font-size="8.2" text-anchor="middle" fill="#2e2e2e" stroke="#2e2e2e" stroke-width="0.2" textLength="26.20" lengthAdjust="spacingAndGlyphs" >(µg/ml)</text>
<line x1="472.00" y1="336.80" x2="513.40" y2="336.80" stroke="#1e1e1e" stroke-width="1.15"/>
<text x="492.70" y="346.10" font-size="8.6" text-anchor="middle" fill="#2e2e2e" stroke="#2e2e2e" stroke-width="0.2" textLength="37.30" lengthAdjust="spacingAndGlyphs" >2MeSADP</text>
<text x="492.70" y="355.70" font-size="8.2" text-anchor="middle" fill="#2e2e2e" stroke="#2e2e2e" stroke-width="0.2" textLength="15.40" lengthAdjust="spacingAndGlyphs" >(nM)</text>
<rect x="223.1" y="368.8" width="4.6" height="4.6" fill="#1f5589"/>
<text x="230.80" y="373.80" font-size="7.4" text-anchor="start" fill="#2e2e2e" stroke="#2e2e2e" stroke-width="0.12" textLength="12.00" lengthAdjust="spacingAndGlyphs" >WT</text>
<rect x="256.5" y="368.8" width="4.6" height="4.6" fill="#c41a3e"/>
<text x="264.60" y="373.80" font-size="7.4" text-anchor="start" fill="#2e2e2e" stroke="#2e2e2e" stroke-width="0.12" textLength="32.00" lengthAdjust="spacingAndGlyphs" >Mnk1 KO</text>
</svg>
</body></html>
